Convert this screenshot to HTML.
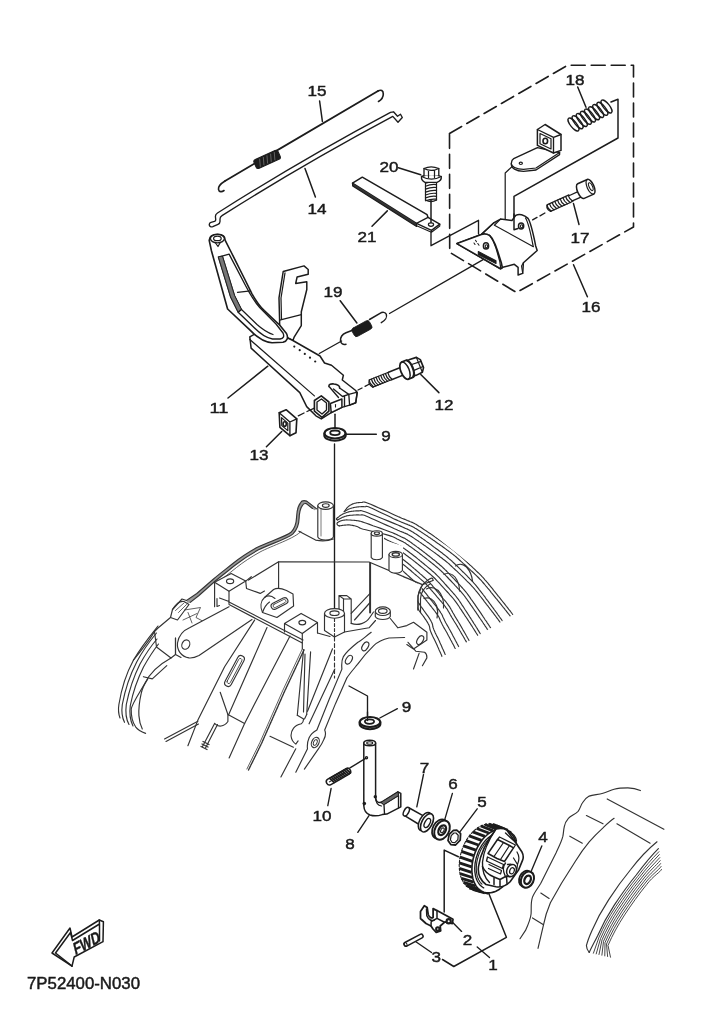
<!DOCTYPE html>
<html><head><meta charset="utf-8"><title>7P52400-N030</title>
<style>
html,body{margin:0;padding:0;background:#fff;}
body{width:719px;height:1024px;overflow:hidden;font-family:"Liberation Sans",sans-serif;}
svg{display:block;filter:blur(0.55px);}
.d{fill:none;stroke:#1c1c1c;stroke-width:1.5;stroke-linecap:round;stroke-linejoin:round;}
.e{fill:none;stroke:#333;stroke-width:1.15;stroke-linecap:round;stroke-linejoin:round;}
.w{fill:#fff;}
.k{fill:#1c1c1c;}
.t{font-family:"Liberation Sans",sans-serif;font-size:15.3px;fill:#1a1a1a;stroke:#1a1a1a;stroke-width:0.45;text-anchor:middle;}
.ds{stroke-dasharray:14 6;}
</style></head><body>
<svg width="719" height="1024" viewBox="0 0 719 1024">
<rect width="719" height="1024" fill="#fff"/>
<!-- ===== TOP PARTS ===== -->
<g class="d">
<!-- dashed box 16 -->
<path class="ds" d="M449.5,133.5 L567.5,65.3 L633.5,65.3 L633.5,227 L516.5,292.5 L449.7,252.3 Z" stroke-width="1.62" stroke-dasharray="16 6"/>

<!-- part 15 rod + spring -->
<path d="M225,181 L378,91" stroke-width="1.76"/>
<path d="M225,181 C221,183.5 218,186 218.5,189.3 C219,192.3 222,192 224,190.5" stroke-width="1.62"/>
<path d="M378,91 C381,89.3 383.3,90.5 383.3,94 C383.3,97.5 381,100 378.5,101.5" stroke-width="1.62"/>
<g transform="rotate(-24.2 267.1 159.4)">
<rect x="253.9" y="154.6" width="26.4" height="9.6" rx="2.4" class="k" stroke-width="1.08"/>
<path d="M258,163 L260.5,156 M262,163 L264.5,156 M266,163 L268.5,156 M270,163 L272.5,156 M274,163 L276.5,156" stroke="#777" stroke-width="0.68"/>
</g>

<!-- part 14 rod -->
<path d="M217.5,213 Q300,160.5 390.5,112.3 L393.5,111.8 L397.5,116.3 L400.5,114.2 L402.3,117.5 L398,122.3 L392.8,116.4 Q303,164.3 222,215.6 C220.500,216.500 220,217.500 220,219 L220,221.500 C220,223 219.300,223.800 218,224.300 L212.800,226.600 C211,227.200 209.600,226.500 209.300,225 C209.100,223.600 209.800,222.700 211,222.300 L214.500,221.300 C215.400,221 215.800,220.300 215.700,219.300 L215.400,216.500 C215.400,215 216.200,213.800 217.5,213 Z" stroke-width="1.35"/>
<!-- part 21 plate -->
<path d="M352.5,183.1 L362.3,177.2 L427.1,214.7 L428,217.4 L439.8,224.2 L431.5,230.4 L416.5,223.4 Z" class="w"/>
<path d="M352.5,183.1 L352.7,186 L416.6,226.4 L416.5,223.4" fill="#333" stroke-width="1.22"/>
<path d="M416.5,223.4 L428,217.4" stroke-width="1.22"/>
<ellipse cx="431" cy="224.6" rx="2.6" ry="1.7" stroke-width="1.22"/>
<path d="M416.6,225.7 L431.5,232.2 L439.8,226 L439.8,224.2 M431.5,230.4 L431.5,232.2" stroke-width="1.08"/>

<!-- bolt 20 -->
<path d="M431,200 L431,222.6" stroke-width="1.49"/>
<path d="M425.5,182.5 L425.5,200.0 M436.5,200.0 L436.5,182.5" stroke-width="1.22"/>
<path d="M425.5,183.3 Q431.0,181.0 436.5,181.7" stroke-width="1.22"/>
<path d="M425.5,186.2 Q431.0,183.9 436.5,184.6" stroke-width="1.22"/>
<path d="M425.5,189.1 Q431.0,186.8 436.5,187.5" stroke-width="1.22"/>
<path d="M425.5,192.1 Q431.0,189.8 436.5,190.4" stroke-width="1.22"/>
<path d="M425.5,195.0 Q431.0,192.7 436.5,193.4" stroke-width="1.22"/>
<path d="M425.5,197.9 Q431.0,195.6 436.5,196.3" stroke-width="1.22"/>
<path d="M425.5,200.8 Q431.0,198.5 436.5,199.2" stroke-width="1.22"/>
<path d="M425.5,200 Q431,203 436.5,200" stroke-width="1.35"/>
<path d="M421.5,176.5 Q421,180.5 425,182.3 L437,182.3 Q441.8,180.5 441.3,176.5 Q431.5,172.5 421.5,176.5 Z" class="w" stroke-width="1.35"/>
<path d="M421.5,176.5 Q431.5,181.8 441.3,176.5" stroke-width="1.22"/>
<path d="M424,175.5 L424,168.5 Q431,165.2 438.8,168.5 L438.8,175.5" class="w" stroke-width="1.35"/>
<path d="M424,168.5 Q431,172.3 438.8,168.5 M428.5,170.3 L428.5,177.5 M434.5,170.3 L434.5,177.5" stroke-width="1.22"/>

<!-- bracket lines left of bracket 16 -->
<path d="M431,231.8 L431,245.7 L478.5,220.3 L478.5,234" stroke-width="1.35"/>
<!-- long line from spring 19 to bracket -->
<path d="M389.5,313.5 L484.4,258.9" stroke-width="1.35"/>

<!-- spring 18 -->
<ellipse cx="573.5" cy="124.5" rx="3.0" ry="7.9" transform="rotate(-38.6 573.5 124.5)" fill="none" stroke-width="1.35"/>
<ellipse cx="577.6" cy="122.2" rx="3.0" ry="7.9" transform="rotate(-38.6 577.6 122.2)" fill="none" stroke-width="1.35"/>
<ellipse cx="581.8" cy="120.0" rx="3.0" ry="7.9" transform="rotate(-38.6 581.8 120.0)" fill="none" stroke-width="1.35"/>
<ellipse cx="585.9" cy="117.8" rx="3.0" ry="7.9" transform="rotate(-38.6 585.9 117.8)" fill="none" stroke-width="1.35"/>
<ellipse cx="590.0" cy="115.5" rx="3.0" ry="7.9" transform="rotate(-38.6 590.0 115.5)" fill="none" stroke-width="1.35"/>
<ellipse cx="594.1" cy="113.2" rx="3.0" ry="7.9" transform="rotate(-38.6 594.1 113.2)" fill="none" stroke-width="1.35"/>
<ellipse cx="598.2" cy="111.0" rx="3.0" ry="7.9" transform="rotate(-38.6 598.2 111.0)" fill="none" stroke-width="1.35"/>
<ellipse cx="602.4" cy="108.8" rx="3.0" ry="7.9" transform="rotate(-38.6 602.4 108.8)" fill="none" stroke-width="1.35"/>
<ellipse cx="606.5" cy="106.5" rx="3.0" ry="7.9" transform="rotate(-38.6 606.5 106.5)" fill="none" stroke-width="1.35"/>
<path d="M611,102 L618,99.3 L618,138 L514,196.3 L514,230" stroke-width="1.49"/>
<path d="M513.5,165.2 L505.2,173 L505.2,247.5 L502,249.5" stroke-width="1.22"/>

<!-- tab + nut block -->
<path d="M513.7,158.7 L537.4,147.6 L559.6,152.5 L559.6,154.6 L536,170 L523.5,171.3 C516,171.3 511,168 511.3,163.5 C511.5,160.5 512.3,159.5 513.7,158.7 Z" class="w" stroke-width="1.35"/>
<path d="M511.3,163.5 C511.3,166.5 516,169.3 523.5,169.3 L536,168 L559.6,152.5" stroke-width="1.22"/>
<ellipse cx="520.8" cy="163.3" rx="1.6" ry="1.2" stroke-width="1.22"/>
<path d="M537.4,129.5 L545.1,124.5 L561,134.5 L561,150.4 L553.5,153 L537.4,145.4 Z" class="w" stroke-width="1.49"/>
<path d="M537.4,129.5 L553.5,137.3 L561,134.5 M553.5,137.3 L553.5,153" stroke-width="1.35"/>
<path d="M540,133.5 L551,138.8 L551,149 L540,143.8 Z" stroke-width="1.22"/>
<ellipse cx="545.3" cy="141" rx="2.3" ry="2.7" stroke-width="1.62"/>

<!-- bolt 17 -->
<path d="M550.5,211.4 L572.0,201.7 M569.0,194.9 L547.5,204.6" stroke-width="1.22"/>
<path d="M551.3,211.0 Q547.6,208.6 546.7,205.0" stroke-width="1.22"/>
<path d="M553.9,209.8 Q550.3,207.4 549.4,203.7" stroke-width="1.22"/>
<path d="M556.6,208.6 Q553.0,206.2 552.1,202.5" stroke-width="1.22"/>
<path d="M559.3,207.4 Q555.7,205.0 554.8,201.3" stroke-width="1.22"/>
<path d="M562.0,206.2 Q558.4,203.8 557.5,200.1" stroke-width="1.22"/>
<path d="M564.7,205.0 Q561.1,202.6 560.2,198.9" stroke-width="1.22"/>
<path d="M567.4,203.8 Q563.8,201.3 562.9,197.7" stroke-width="1.22"/>
<path d="M570.1,202.6 Q566.4,200.1 565.6,196.5" stroke-width="1.22"/>
<path d="M572.8,201.3 Q569.1,198.9 568.2,195.3" stroke-width="1.22"/>
<path d="M547.6,204.8 Q545.5,208.5 550.3,211.3" stroke-width="1.22"/>
<path d="M569.5,195.5 L579,191.2 M571.8,201.2 L581.5,196.8" stroke-width="1.35"/>
<g transform="rotate(-24 585.5 189)">
<path d="M580.5,181 L591,181 A3.4,8 0 0 1 591,197 L580.5,197 A3.4,8 0 0 1 580.5,181 Z" class="w" stroke-width="1.49"/>
<path d="M591,181 A3.4,8 0 0 0 591,197" stroke-width="1.22"/>
<ellipse cx="591.3" cy="189" rx="1.7" ry="4.2" stroke-width="1.08"/>
</g>
<path d="M532.6,219.9 L537,217.4 M540,215.8 L544.9,213" stroke-width="1.35"/>

<!-- bracket 16 -->
<path d="M493.6,223 L500.5,219.1 L512,220.5 L515.8,215.3 C519,213.5 524,214.5 528,218.4 C531,222.5 532.6,230.6 535.7,245.9 L537.2,250.5 L523.4,262.7 L522.7,273.4 L518.1,275 L518.1,267.3 L514.3,264.3 L502.8,267.3 L500.5,268.8 L456.9,243.6 L481.4,234.4 Z" class="w" stroke-width="1.49"/>
<path d="M494.4,225.2 L533.4,246.7 M493.6,223 L481.4,234.4 M494.4,225.2 L500.5,219.1" stroke-width="1.22"/>
<path d="M522.7,273.4 L521.5,266 L523.4,262.7" stroke-width="1.08"/>
<path d="M525.5,218 C528.5,222.5 530.3,231 533.2,246.4" stroke-width="1.22"/>
<ellipse cx="521.1" cy="226" rx="2.6" ry="3" stroke-width="1.49"/>
<ellipse cx="521.6" cy="226.3" rx="1.2" ry="1.5" stroke-width="1.08"/>
<path d="M514,214 L514,229.8 L518,228.5" stroke-width="1.49"/>
<!-- front ear -->
<path d="M456.9,243.6 L481.4,234.4 C485,233 489.5,234.3 492,238.2 C494.5,242.5 496,246 497.4,250.5 L501.3,262.7 L502.3,267.5 L500.5,268.8 Z" class="w" stroke-width="1.62"/>
<path d="M489.5,235.2 C492.5,239 494.5,243.5 496,248 L499.8,261.5 L500.7,268.2" stroke-width="1.22"/>
<ellipse cx="486" cy="245.9" rx="2.6" ry="3.1" stroke-width="1.49"/>
<ellipse cx="486.4" cy="246.2" rx="1.2" ry="1.5" stroke-width="1.08"/>
<path d="M478.3,251.6 L496,260.8 L496,263.5 L478.3,254.5 Z" class="k" stroke-width="1.08"/>
<path d="M475.5,240.3 L476.5,241.8 M477.8,243.5 L479,245.2 M474,243 L475,244.5" stroke-width="1.08"/>
</g>
<!-- ===== LEVER 11 etc ===== -->
<g class="d">
<!-- upright plate -->
<path d="M283.2,271.5 L304,265.9 L308.2,269.5 L308.2,274.2 L297.1,277 L295.7,283.4 L306.8,281.8 L306.8,289.5 L301.3,311.8 L301.3,325.7 L294.3,336.8 L292.9,340.5 L279.6,334 L279.6,320.1 L279,297.9 Z" class="w" stroke-width="1.49"/>
<path d="M285,272.8 L281,298 L281.5,319.5 M279.6,320.1 L301.3,314.6" stroke-width="1.22"/>
<!-- flat plate -->
<path d="M249.8,336.8 L251.1,348.1 L299.8,392.6 L306.7,406.6 L315.9,415.8 L321.3,418.9 L331.2,412.7 L341.9,407.4 L349.6,405.1 L355.7,402.8 L357.2,392.8 L355.7,390.5 L342.3,380 L343.4,375.2 L331.5,365.3 L324.5,363 L320,356 L292.9,340.5 L279.6,334 L262,330 Z" class="w" stroke-width="1.49"/>
<path d="M249.8,339.5 L314.4,395.9" stroke-width="1.22"/>
<!-- holes -->
<g class="k" stroke="none"><circle cx="294.3" cy="346.6" r="1.1"/><circle cx="299.7" cy="350.2" r="1.1"/><circle cx="304.8" cy="353.9" r="1.1"/><circle cx="310" cy="357.7" r="1.1"/><circle cx="315.2" cy="361.5" r="1.1"/></g>
<!-- arm -->
<path d="M209.2,240.3 C209.5,236 213,234.3 217.6,234.3 C222.5,234.3 225.2,236.5 225.2,240.3 L230.6,251 L244.4,278.5 L252,293.8 C256,301 259,305.5 264.3,310.7 L279.6,325 L286.5,333.5 C288.5,337.5 287.5,341 283,342.3 L272,342.8 C264,342 257,337.5 249.8,329.9 L227.6,309 L211.5,251 Z" class="w" stroke-width="1.62"/>
<ellipse cx="217.4" cy="238.6" rx="7" ry="4.2" stroke-width="1.35"/>
<ellipse cx="217.4" cy="238.4" rx="3.8" ry="2.3" stroke-width="1.22"/>
<path d="M215.5,243 L218,246.5 L220,243" stroke-width="1.22"/>
<!-- slot -->
<path d="M218.4,257.1 L229.1,254.1 L245.9,286.2 C250,294 254,301 259.7,307.5 L276,324 L283,333 C284.5,336.5 283.5,338.5 280,339 L272.5,339 C266,338 260,333.5 254,327.5 L238.2,312.2 L230.6,296.9 Z" stroke-width="1.35"/>
<path d="M222.5,256.5 L234.5,295.5 L241.5,309.5 L257,324.5 C262,329 267,332.5 273,334.5" stroke-width="1.22"/>
<path d="M218.4,257.1 L230.6,296.9 L238.2,312.2 L241.5,309.5 L234.5,295.5 L222.5,256.5 Z" fill="#777" stroke-width="0.81"/>
<path d="M237.5,292.3 L250.5,290.8 M238.2,312.2 L241.5,309.5" stroke-width="1.22"/>
<!-- clamp end -->
<path d="M348.8,394.4 L357.2,392.1 L355.7,402.8 L349.6,405.1 Z" stroke-width="1.35"/>
<path d="M328.9,386.5 C328.5,384.5 331,383.5 334,384 C337.5,384.5 340,386 339.6,388" stroke-width="1.62"/>
<path d="M329.5,387 L338.5,397.5 M333.5,389 L342.5,396.5 L348.8,394.4 M339.6,388 L348.8,394.4 M344.5,397 L344.5,406.5" stroke-width="1.35"/>
<path d="M330.4,403.5 L341.9,399 L341.9,407.4 L331.2,412.7 Z" class="w" stroke-width="1.49"/>
<path d="M314.4,400.5 L321.3,395.9 L328.9,402 L328.9,411.2 L322,417.3 L314.4,411.2 Z" class="w" stroke-width="1.62"/>
<path d="M317,402 L321.5,399 L326.5,403 L326.5,410 L322,414 L317,410 Z" stroke-width="1.35"/>
<path d="M335.5,404.5 L335.5,407" stroke-width="1.08"/>
<!-- dashed lines -->
<path d="M298.3,415.8 L304,413 M307,411.5 L314.4,408.1" stroke-width="1.35"/>
<path d="M358,390 L362,388 M365,386.3 L369.5,384" stroke-width="1.35"/>
<path d="M335,414.3 L335,430.5" stroke-width="1.49"/>
<path d="M319.3,353.5 L341.6,341" stroke-width="1.35"/>

<g transform="translate(0,1.6)"><!-- nut 13 -->
<path d="M279.2,411.2 L286.1,408.1 L296.8,417.3 L296,431.1 L289.9,434.1 L279.9,425.7 Z" class="w" stroke-width="1.62"/>
<path d="M279.2,411.2 L289.9,420.4 L296.8,417.3 M289.9,420.4 L289.9,434.1" stroke-width="1.35"/>
<path d="M281.5,416 L287.8,421.5 L287.8,429 L281.8,424 Z" stroke-width="1.22"/>
<ellipse cx="284.7" cy="422.5" rx="1.6" ry="2.3" stroke-width="1.62"/>

</g>
<!-- washer 9 -->
<path d="M324.3,433.2 L324.3,435.4 A10.7,5.4 0 0 0 345.7,435.4 L345.7,433.2" class="w" stroke-width="2.03"/>
<ellipse cx="335" cy="433.2" rx="10.4" ry="5.2" class="w" stroke-width="2.03"/>
<ellipse cx="335" cy="432.8" rx="4.8" ry="2.3" stroke-width="1.76"/>

<!-- spring 19 -->
<path d="M352.5,330.3 L346,332.8 C342.5,334.3 340.3,337.5 340.5,340.8 C340.8,343.8 343.2,345 346,344.2" stroke-width="1.49"/>
<path d="M369.5,319.5 L380,313.3 C382.5,311.8 385.3,312 386.3,314.3 C387.3,317 385.3,320.5 381.3,322.6" stroke-width="1.49"/>
<rect x="352" y="323.9" width="19.8" height="9.4" rx="2.5" class="k" stroke-width="0.81" transform="rotate(-28.9 361.9 328.6)"/>


<!-- bolt 12 -->
<path d="M372.7,387.1 L391.5,379.7 M388.5,372.3 L369.7,379.7" stroke-width="1.22"/>
<path d="M373.4,386.8 Q369.8,383.9 369.0,380.0" stroke-width="1.22"/>
<path d="M375.8,385.9 Q372.2,383.0 371.3,379.0" stroke-width="1.22"/>
<path d="M378.1,385.0 Q374.5,382.1 373.7,378.1" stroke-width="1.22"/>
<path d="M380.5,384.1 Q376.9,381.2 376.0,377.2" stroke-width="1.22"/>
<path d="M382.8,383.1 Q379.2,380.2 378.4,376.3" stroke-width="1.22"/>
<path d="M385.2,382.2 Q381.6,379.3 380.7,375.3" stroke-width="1.22"/>
<path d="M387.5,381.3 Q383.9,378.4 383.1,374.4" stroke-width="1.22"/>
<path d="M389.9,380.4 Q386.3,377.5 385.4,373.5" stroke-width="1.22"/>
<path d="M392.2,379.4 Q388.6,376.5 387.8,372.6" stroke-width="1.22"/>
<path d="M369.7,379.8 Q367.3,383.8 372.8,387.2" stroke-width="1.22"/>
<path d="M388.5,372.3 L403.5,366.3 M391.5,379.8 L405,374.4" stroke-width="1.49"/>
<g transform="rotate(-22 405 370.6)">
<path d="M405,361.4 L409.8,361.4 A4.2,9.2 0 0 1 409.8,379.8 L405,379.8 A4.2,9.2 0 0 1 405,361.4 Z" class="w" stroke-width="1.76"/>
<path d="M405,361.4 A4.2,9.2 0 0 1 405,379.8" stroke-width="1.49"/>
<path d="M411.5,362.5 L413.5,362 L420.5,362.6 L423.3,366.2 L423.3,374.8 L420.5,378.6 L413.5,379.2 L411.8,378.5" class="w" stroke-width="1.62"/>
<path d="M420.5,362.6 L420.5,378.6 M413.5,367.5 L423.3,368 M413.5,373.8 L423.3,373.5" stroke-width="1.22"/>
<path d="M410.5,362 A4.2,9.2 0 0 1 410.5,379.2" stroke-width="2.16"/>
</g>
<!-- long vertical line -->
<path d="M334.5,444 L334.5,608" stroke-width="1.35"/>
</g>
<!-- ===== ENGINE BLOCK (light lines) ===== -->
<g class="e">
<!-- outer rim left: multiple lines -->
<path d="M314.6,508.7L306.5,502.4C304.0,501.7 302.4,502.3 301.6,504.0C298.8,507.5 298.0,512.5 297.8,518.2C297.6,524.5 295.8,529.1 292.0,533.0C287.0,537.5 268.8,543.1 257.7,548.6C248.8,553.6 240.8,559.0 234.2,564.1C226.8,570.1 220.2,575.1 214.2,580.1L197.9,594.5L188.2,601.5" stroke="#9a9a9a" stroke-width="2.73"/>
<path d="M316.7,508.9 L306.7,501.1 C303.5,500.2 301.5,500.8 300.5,502.8 C297.5,506.5 296.7,512 296.5,518 C296.3,524 294.5,528.5 291,532.3 C286,536.5 268,542 256.9,547.5 C248,552.5 240,557.8 233.5,563 C226,569 219.5,574 213.5,579 L196.8,593.5 L186.5,600.5 L182,599 L172.5,609.5"/>
<path d="M312.5,508.5 L306.3,503.6 C304.5,503.2 303.3,503.8 302.6,505.2 C300,508.5 299.3,513 299.1,518.5 C298.9,525 297,529.8 293,533.8 C288,538.5 269.5,544.3 258.5,549.8 C249.5,554.8 241.5,560.1 235,565.3 C227.5,571.3 221,576.3 215,581.3 L199,595.5 L190,602.5"/>
<path d="M301.1,531.2 C296,538 271,546 260,552 C251,557 243,562.3 236.5,567.5 C229,573.5 222.5,578.5 217,583.5" stroke-width="0.78"/>
<path d="M298.9,531.2 L315.6,540.1 C322,541.5 328,541 333.4,539"/>
<!-- bump on rim -->
<path d="M172.5,609.5 C176,604 180,600.5 184,601.5 L189,604.5 L177.5,620 L170.5,617.5 Z"/>
<path d="M175.5,610.5 L184,603 M178.5,612.5 L186.5,604.5" stroke-width="0.78"/>
<path d="M184.5,610 L200.5,607.5 L196,617.5 L203.5,621.5 M188,612.5 L192,623 M183,620 L197,613.5" stroke-width="0.78"/>
<!-- left lug box -->
<path d="M170.5,617.5 L158,628 L154.5,631.5 L156.5,647 L171,658 L175.5,654.5 L175.5,638"/>
<path d="M154.500,631.5 C150,640 143,648 133.400,660.200"/>
<!-- rim lower-left 4 lines -->
<path d="M158,626 C150,636 141,647 133.400,660.200 C127,672 121.500,688 118.900,704.500 C118,710 118.500,714 120,718"/>
<path d="M156.500,633 C149,642 142,652 136.700,662 C130.500,674 125,690 122.300,704.500 C121.300,712 122.300,718 124.500,722.300"/>
<path d="M157,639 C151,646 145,655 140,664 C134,676 129,691 126.300,704.500 C125.300,712 126.500,720 129,724.500"/>
<path d="M171,658 C160,664 150,672 144.500,684 C138,695 132,704 131.200,709 C131,717 133,723 135.600,726.800 C138,730 142,732 145.600,733.400"/>
<path d="M158.500,644 C153,651 148,659 143.500,667 C138,678 133,692 130.300,705.500 C129.300,713 130.500,721 133,726"/>
<path d="M147.800,678.900 C144.500,684 142,689 141.200,693.400 C139.500,701 138.500,708 138.900,715.600 C139.300,721 140.500,725.500 142.300,729"/>
<path d="M143.400,676.700 L152.300,678.900 L166.800,665.600"/>

<!-- top cylinder boss -->
<path d="M317.800,505.600 L317.800,537 C320,541 331,541 333.400,537 L333.400,505.600" class="w"/>
<ellipse cx="325.600" cy="505.600" rx="7.800" ry="3.800" class="w"/>
<ellipse cx="325.800" cy="505.500" rx="3.400" ry="1.800"/>
<path d="M321,509 L321,536" stroke-width="0.65"/>

<!-- inner box -->
<path d="M248.500,580.100 L278.600,561.800 L369,562 L422.400,584.600 L418,595.700 L418,610"/>
<path d="M278.600,561.800 L278.600,588.500"/>
<path d="M370.100,563 L370.100,612.500" stroke-width="1.95"/>
<path d="M422.400,584.600 L433,580.500"/>

<!-- left block -->
<path d="M214.600,582.300 L231.200,573.400 L245.700,581.100 L229,591.200 Z" class="w"/>
<ellipse cx="230.100" cy="581.300" rx="3.600" ry="2.400"/>
<path d="M214.600,582.300 L214.600,606.700 M229,591.200 L229,603.400 M245.700,581.100 L246.500,588.500 L260.200,593.400 L264.500,591 M217,598.500 L217,606.500 L219.500,605.500 M219.500,598 L229,601.500"/>
<path d="M245.700,581.100 L251.300,576.700"/>
<!-- slot boss -->
<path d="M262.500,612.500 C260,607 260.500,601 264.500,597.500 L273.600,589.500 C277,587.500 282,588.500 286.500,590.500 L293,594 L293.600,606 L276.900,617.500 Z" class="w"/>
<path d="M264.500,597.500 C268,595 272,596 275,598.500 M262.500,612.500 C264,608 266,604.500 269.500,602"/>
<rect x="270.500" y="600.300" width="18" height="6.400" rx="3.200" transform="rotate(-27 279.500 603.500)"/>
<rect x="272.500" y="601.800" width="14" height="3.400" rx="1.700" transform="rotate(-27 279.500 603.500)" stroke-width="0.78"/>
<!-- ledge thick line -->
<path d="M229,602 L303,640 M229,604.500 L302.300,643" stroke-width="1.17"/>
<!-- right block -->
<path d="M284.500,623.500 L301.100,613.400 L317.500,622.500 L302.300,633.500 Z" class="w"/>
<ellipse cx="302.300" cy="622.600" rx="3.400" ry="2.300"/>
<path d="M284.500,623.500 L284.500,632 M302.300,633.500 L302.300,649 M317.500,622.500 L317.500,633"/>

<!-- link arm -->
<path d="M229,606.700 L190,627.500 C183,630.500 178.500,636 177.500,643 C176.800,650 181,656.500 189,657.900 C193,658.300 196,657 199,655.500 L252,619.500" class="w"/>
<ellipse cx="185.800" cy="644.600" rx="3.800" ry="4.800" transform="rotate(25 185.800 644.600)"/>
<path d="M175.500,638 L175.500,654.500 L181,657.500"/>

<!-- crankcase body diagonals -->
<path d="M254.600,620.100 L224.600,666.700 L197.900,720.100 L187.900,745.700"/>
<path d="M267,627.5 L228.500,715"/>
<rect x="217.5" y="667.500" width="34" height="7" rx="3.500" transform="rotate(-62 234.5 671)"/>
<rect x="220.5" y="669.300" width="28" height="3.400" rx="1.700" transform="rotate(-62 234.5 671)" stroke-width="0.78"/>

<path d="M220.200,692.300 L227.900,714.500 L244.600,723.400"/>
<path d="M290,636 L260,693.400 L244.600,723.400 L229.100,757.900"/>
<path d="M164.500,739 L197.900,721.200 M166,741.500 L198.500,724"/>
<path d="M214.600,723.400 L202.400,746.800 M217.500,724.500 L205.500,748 M214.600,723.400 C218,727.500 224,727 227.900,721.500 L227.900,714.500"/>
<path d="M202,744 L208,747 M203,741.500 L209,744.500 M201,746.500 L207,749.500" stroke-width="1.30"/>
<path d="M302.300,649 L283,690 L260,742.300 L246.900,769" stroke-width="0.78"/>
<path d="M304,650 L284.500,691.500 L261.500,743.500 L248.500,770" stroke-width="1.43" stroke-dasharray="1 0.8"/>
<path d="M303.600,649.500 L297.300,715.200 M310.600,651.900 L306.700,714.400 M305,654 L303.500,712"/>
<path d="M270,736.300 L293.400,747.200"/>
<path d="M297.300,715.200 L303.600,719.100 C303.500,721.500 302.500,723 301.300,723.800 C298,724.500 295,726 293.400,728.400 C291.500,731 290.800,733.500 291.100,736.300 C291.500,740 293.500,742.500 295.800,744.100 L298.100,740.900 M295.800,748.800 L280.900,776.900 M306.700,714.400 L304.500,719"/>
<!-- fins (right) -->
<clipPath id="fc"><path d="M335,510 L350,496 L385,496 L530,612 L513.5,614.5 L440,658 L424,628 L417.500,620 L417.500,597 L423,586 L369,562 L350,540 L336,526 Z"/></clipPath>
<clipPath id="fc2"><path d="M384,528 L530,612 L513.5,614.5 L440,658 L424,628 L417.500,620 L417.500,597 L423,586 L403,577 L403,546 L384,540 Z"/></clipPath>
<g clip-path="url(#fc)"><path d="M344.2,511.7 L344.4,511.4 L344.8,510.9 L345.2,510.3 L345.6,509.7 L346.1,509.0 L346.5,508.4 L347.0,507.8 L347.5,507.3 L348.0,506.9 L348.5,506.4 L349.0,506.0 L349.5,505.7 L350.0,505.3 L350.6,505.0 L351.1,504.7 L351.7,504.4 L352.3,504.1 L352.8,503.9 L353.4,503.7 L354.0,503.5 L354.6,503.3 L355.3,503.2 L355.9,503.0 L356.5,502.9 L357.1,502.8 L357.7,502.7 L358.4,502.6 L359.0,502.6 L359.7,502.5 L360.3,502.5 L361.0,502.5 L361.7,502.5 L362.3,502.4 L362.6,502.3 L362.9,502.1 L363.3,502.0 L363.9,502.0 L364.7,502.1 L366.1,502.5 L368.0,503.2 L370.7,504.3 L374.3,505.9 L378.4,507.7 L382.8,509.6 L387.2,511.6 L391.3,513.5 L395.0,515.2 L397.9,516.5 L400.1,517.4 L401.8,518.2 L403.1,518.7 L404.1,519.1 L404.9,519.4 L405.7,519.7 L406.5,520.1 L407.4,520.5 L408.4,520.9 L409.4,521.3 L410.3,521.7 L411.2,522.0 L412.1,522.4 L413.0,522.8 L413.9,523.2 L414.9,523.8 L415.9,524.3 L417.0,525.0 L418.1,525.7 L419.2,526.4 L420.4,527.1 L421.5,527.8 L422.6,528.5 L423.6,529.2 L424.7,529.9 L425.7,530.6 L426.7,531.2 L427.7,531.9 L428.6,532.5 L429.6,533.2 L430.6,533.8 L431.5,534.5 L432.4,535.1 L433.3,535.7 L434.2,536.3 L435.0,536.9 L435.9,537.5 L436.8,538.2 L437.7,538.8 L438.7,539.5 L439.7,540.3 L440.8,541.0 L441.9,541.8 L443.0,542.6 L444.2,543.4 L445.3,544.3 L446.5,545.1 L447.7,546.0 L448.8,546.8 L450.0,547.7 L451.2,548.6 L452.4,549.5 L453.6,550.4 L454.8,551.4 L455.9,552.3 L457.1,553.2 L458.2,554.2 L459.3,555.2 L460.4,556.1 L461.5,557.1 L462.6,558.1 L463.7,559.1 L464.7,560.1 L465.8,561.1 L466.9,562.0 L467.9,563.0 L469.0,564.0 L470.0,565.0 L471.1,565.9 L472.1,566.9 L473.1,567.9 L474.2,568.9 L475.2,569.8 L476.2,570.8 L477.2,571.8 L478.2,572.7 L479.2,573.7 L480.2,574.7 L481.2,575.7 L482.1,576.7 L483.1,577.7 L484.0,578.7 L484.9,579.8 L485.9,580.8 L486.8,581.9 L487.7,582.9 L488.5,584.0 L489.4,585.0 L490.3,586.1 L491.1,587.1 L492.0,588.2 L492.8,589.2 L493.6,590.3 L494.5,591.3 L495.3,592.3 L496.1,593.3 L496.9,594.3 L497.7,595.3 L498.4,596.3 L499.2,597.2 L500.0,598.2 L500.7,599.1 L501.5,600.1 L502.2,601.0 L502.9,601.9 L503.7,602.8 L504.4,603.7 L505.1,604.6 L505.8,605.5 L506.4,606.3 L507.1,607.1 L507.7,607.9 L508.4,608.8 L509.0,609.6 L509.7,610.4 L510.3,611.2 L510.9,612.0 L511.4,612.7 L511.9,613.3 L512.3,613.7 L512.5,614.1 L512.7,614.3 L512.7,614.3 L512.8,614.4 L512.7,614.4 L512.7,614.3 L512.7,614.3 L512.7,614.3"/>
<path d="M344.2,511.7 L344.6,511.5 L345.0,511.2 L345.6,510.8 L346.2,510.5 L346.9,510.1 L347.6,509.7 L348.3,509.3 L349.0,509.0 L349.7,508.7 L350.4,508.5 L351.2,508.2 L352.0,508.0 L352.8,507.8 L353.5,507.6 L354.3,507.5 L355.0,507.3 L355.7,507.2 L356.3,507.1 L356.9,507.0 L357.6,506.9 L358.2,506.8 L358.8,506.8 L359.4,506.7 L360.0,506.7 L360.6,506.7 L361.2,506.6 L361.9,506.6 L362.5,506.6 L363.1,506.6 L363.8,506.6 L364.4,506.7 L365.0,506.7 L365.5,506.7 L365.8,506.6 L365.9,506.4 L366.2,506.3 L366.6,506.3 L367.3,506.5 L368.4,506.8 L370.0,507.5 L372.4,508.6 L375.5,510.0 L379.0,511.7 L382.8,513.5 L386.7,515.3 L390.4,517.1 L393.6,518.7 L396.3,519.9 L398.3,520.8 L400.0,521.5 L401.3,522.1 L402.4,522.5 L403.4,522.9 L404.3,523.2 L405.2,523.6 L406.2,524.0 L407.2,524.4 L408.1,524.8 L408.9,525.1 L409.7,525.4 L410.5,525.8 L411.3,526.1 L412.2,526.5 L413.1,527.0 L414.1,527.6 L415.1,528.2 L416.2,528.8 L417.3,529.5 L418.4,530.2 L419.5,530.9 L420.6,531.6 L421.6,532.3 L422.6,532.9 L423.6,533.6 L424.6,534.3 L425.6,534.9 L426.6,535.6 L427.6,536.2 L428.5,536.9 L429.4,537.5 L430.4,538.1 L431.2,538.7 L432.1,539.3 L432.9,539.9 L433.8,540.5 L434.7,541.1 L435.6,541.8 L436.5,542.5 L437.6,543.2 L438.7,543.9 L439.8,544.7 L440.9,545.5 L442.1,546.3 L443.3,547.2 L444.4,548.0 L445.6,548.9 L446.7,549.7 L447.9,550.6 L449.1,551.4 L450.2,552.3 L451.4,553.2 L452.6,554.1 L453.7,555.0 L454.8,555.9 L455.9,556.8 L457.0,557.8 L458.1,558.7 L459.2,559.7 L460.3,560.7 L461.3,561.6 L462.4,562.6 L463.4,563.6 L464.5,564.5 L465.6,565.5 L466.6,566.5 L467.7,567.5 L468.7,568.4 L469.8,569.4 L470.8,570.4 L471.8,571.3 L472.9,572.3 L473.9,573.2 L474.9,574.2 L475.9,575.1 L476.9,576.1 L477.8,577.0 L478.8,578.0 L479.7,579.0 L480.7,579.9 L481.6,580.9 L482.5,582.0 L483.4,583.0 L484.3,584.0 L485.1,585.0 L486.0,586.1 L486.9,587.1 L487.7,588.1 L488.6,589.1 L489.5,590.2 L490.3,591.2 L491.1,592.3 L492.0,593.3 L492.8,594.3 L493.6,595.3 L494.4,596.3 L495.2,597.3 L496.0,598.3 L496.8,599.2 L497.5,600.2 L498.3,601.1 L499.0,602.0 L499.8,602.9 L500.5,603.8 L501.2,604.7 L501.9,605.6 L502.6,606.5 L503.3,607.4 L504.0,608.2 L504.7,609.0 L505.3,609.8 L506.0,610.6 L506.6,611.5 L507.3,612.3 L507.9,613.1 L508.5,613.9 L509.1,614.5 L509.5,615.1 L509.9,615.6 L510.1,615.9 L510.3,616.1 L510.4,616.2 L510.4,616.2 L510.4,616.2 L510.4,616.2 L510.3,616.1 L510.3,616.2"/>
<path d="M337.5,517.8 L337.8,517.6 L338.2,517.2 L338.7,516.9 L339.2,516.4 L339.7,516.0 L340.3,515.6 L340.9,515.2 L341.5,514.8 L342.1,514.5 L342.7,514.1 L343.4,513.8 L344.0,513.5 L344.7,513.3 L345.4,513.0 L346.0,512.7 L346.7,512.5 L347.4,512.3 L348.0,512.1 L348.6,511.9 L349.3,511.8 L349.9,511.6 L350.6,511.5 L351.3,511.4 L352.0,511.3 L352.7,511.2 L353.5,511.1 L354.3,511.0 L355.1,511.0 L355.9,510.9 L356.8,510.9 L357.6,510.9 L358.4,510.9 L359.1,510.9 L359.5,510.8 L359.9,510.7 L360.3,510.6 L360.8,510.6 L361.7,510.8 L363.1,511.2 L365.0,511.8 L367.7,512.8 L371.2,514.2 L375.2,515.8 L379.5,517.5 L383.8,519.2 L387.9,520.9 L391.5,522.4 L394.5,523.6 L396.7,524.5 L398.5,525.3 L399.9,525.9 L401.1,526.4 L402.0,526.8 L402.9,527.2 L403.8,527.6 L404.7,528.1 L405.7,528.5 L406.5,528.8 L407.3,529.1 L408.0,529.4 L408.6,529.7 L409.3,530.1 L410.1,530.4 L410.9,530.9 L411.8,531.5 L412.8,532.1 L413.8,532.7 L414.9,533.4 L415.9,534.1 L417.0,534.8 L418.0,535.5 L419.0,536.2 L420.0,536.9 L421.0,537.5 L421.9,538.2 L422.9,538.9 L423.9,539.6 L424.8,540.2 L425.7,540.9 L426.7,541.6 L427.5,542.2 L428.4,542.8 L429.2,543.4 L430.0,544.0 L430.9,544.6 L431.7,545.3 L432.6,545.9 L433.5,546.7 L434.5,547.4 L435.6,548.2 L436.7,549.0 L437.8,549.8 L439.0,550.7 L440.1,551.6 L441.3,552.4 L442.4,553.3 L443.5,554.2 L444.6,555.0 L445.7,555.9 L446.8,556.8 L447.9,557.7 L448.9,558.6 L450.0,559.5 L451.1,560.4 L452.1,561.3 L453.1,562.3 L454.1,563.2 L455.2,564.2 L456.2,565.2 L457.2,566.2 L458.2,567.1 L459.2,568.1 L460.2,569.1 L461.2,570.1 L462.2,571.2 L463.3,572.2 L464.3,573.2 L465.3,574.2 L466.3,575.2 L467.3,576.2 L468.2,577.2 L469.2,578.1 L470.1,579.1 L471.1,580.0 L472.0,581.0 L472.9,581.9 L473.7,582.9 L474.6,583.9 L475.5,584.8 L476.3,585.8 L477.1,586.8 L477.9,587.8 L478.7,588.8 L479.4,589.8 L480.2,590.8 L481.0,591.8 L481.8,592.9 L482.6,593.9 L483.4,595.0 L484.3,596.1 L485.1,597.2 L485.8,598.3 L486.6,599.3 L487.4,600.4 L488.2,601.4 L488.9,602.4 L489.6,603.4 L490.4,604.4 L491.1,605.3 L491.8,606.3 L492.5,607.2 L493.2,608.2 L493.9,609.1 L494.5,610.0 L495.2,610.9 L495.9,611.8 L496.5,612.7 L497.2,613.6 L497.8,614.5 L498.4,615.3 L499.0,616.1 L499.6,617.0 L500.2,617.8 L500.8,618.7 L501.4,619.4 L501.9,620.2 L502.3,620.8 L502.7,621.2 L502.9,621.6 L503.1,621.8 L503.1,621.9 L503.2,621.9 L503.1,621.9 L503.1,621.8 L503.1,621.8 L503.1,621.8"/>
<path d="M337.5,520.0 L337.8,519.8 L338.3,519.6 L338.8,519.2 L339.5,518.9 L340.1,518.6 L340.8,518.2 L341.4,517.9 L342.0,517.6 L342.6,517.3 L343.1,517.1 L343.7,516.9 L344.2,516.7 L344.8,516.4 L345.4,516.2 L346.0,516.1 L346.7,515.9 L347.4,515.8 L348.1,515.6 L348.9,515.5 L349.7,515.4 L350.5,515.3 L351.3,515.2 L352.2,515.2 L353.0,515.1 L353.8,515.0 L354.7,515.0 L355.6,515.0 L356.5,514.9 L357.4,514.9 L358.3,514.9 L359.2,515.0 L360.0,515.0 L360.7,515.0 L361.1,514.9 L361.4,514.8 L361.8,514.8 L362.3,514.8 L363.1,515.0 L364.3,515.3 L366.0,516.0 L368.4,517.0 L371.5,518.4 L375.1,520.0 L378.9,521.7 L382.8,523.5 L386.4,525.1 L389.7,526.6 L392.4,527.8 L394.5,528.8 L396.3,529.5 L397.8,530.2 L399.1,530.7 L400.2,531.2 L401.2,531.6 L402.2,532.0 L403.2,532.4 L404.1,532.8 L404.9,533.1 L405.6,533.4 L406.1,533.6 L406.7,533.9 L407.3,534.1 L407.9,534.5 L408.7,534.9 L409.6,535.4 L410.5,536.0 L411.5,536.6 L412.5,537.2 L413.5,537.9 L414.5,538.6 L415.5,539.3 L416.5,539.9 L417.5,540.6 L418.5,541.2 L419.4,541.9 L420.4,542.6 L421.4,543.2 L422.3,543.9 L423.3,544.5 L424.2,545.2 L425.1,545.8 L425.9,546.4 L426.7,547.0 L427.5,547.6 L428.4,548.2 L429.2,548.8 L430.1,549.4 L431.0,550.1 L432.1,550.9 L433.1,551.6 L434.2,552.4 L435.4,553.3 L436.5,554.1 L437.7,555.0 L438.8,555.8 L439.9,556.7 L441.0,557.5 L442.1,558.3 L443.2,559.2 L444.3,560.0 L445.3,560.8 L446.4,561.7 L447.5,562.6 L448.5,563.4 L449.5,564.3 L450.5,565.3 L451.5,566.2 L452.5,567.1 L453.5,568.1 L454.5,569.0 L455.5,570.0 L456.6,570.9 L457.6,571.9 L458.6,572.9 L459.7,573.9 L460.7,574.9 L461.8,575.9 L462.8,576.9 L463.8,577.9 L464.8,578.9 L465.8,579.8 L466.7,580.8 L467.6,581.7 L468.6,582.6 L469.5,583.5 L470.4,584.4 L471.2,585.3 L472.1,586.3 L472.9,587.2 L473.8,588.1 L474.6,589.1 L475.3,590.0 L476.1,591.0 L476.9,591.9 L477.7,592.9 L478.5,593.9 L479.3,594.9 L480.1,596.0 L480.9,597.0 L481.8,598.1 L482.6,599.2 L483.4,600.2 L484.2,601.3 L485.0,602.3 L485.8,603.3 L486.5,604.3 L487.3,605.3 L488.0,606.2 L488.7,607.2 L489.5,608.1 L490.2,609.1 L490.9,610.0 L491.6,610.9 L492.3,611.8 L493.0,612.7 L493.7,613.6 L494.3,614.5 L495.0,615.3 L495.6,616.2 L496.2,617.0 L496.8,617.8 L497.5,618.7 L498.1,619.5 L498.7,620.3 L499.3,621.1 L499.8,621.8 L500.3,622.4 L500.6,622.8 L500.9,623.2 L501.0,623.4 L501.1,623.5 L501.1,623.5 L501.1,623.5 L501.1,623.5 L501.0,623.4 L501.1,623.4"/>
<path d="M337.5,522.5 L337.8,522.4 L338.1,522.2 L338.5,521.9 L339.0,521.7 L339.5,521.4 L340.0,521.2 L340.5,521.0 L341.0,520.8 L341.5,520.7 L341.9,520.5 L342.4,520.4 L342.8,520.3 L343.3,520.2 L343.8,520.1 L344.4,520.1 L345.0,520.0 L345.6,520.0 L346.3,519.9 L347.0,519.9 L347.8,520.0 L348.6,520.0 L349.4,520.0 L350.2,520.0 L351.0,520.1 L351.9,520.2 L352.8,520.2 L353.8,520.3 L354.7,520.4 L355.7,520.5 L356.6,520.6 L357.6,520.8 L358.4,520.9 L359.0,521.0 L359.4,521.1 L359.7,521.1 L360.0,521.2 L360.5,521.3 L361.2,521.5 L362.3,521.9 L364.0,522.5 L366.4,523.3 L369.5,524.4 L373.0,525.7 L376.8,527.0 L380.7,528.4 L384.4,529.7 L387.7,531.0 L390.4,532.0 L392.6,532.8 L394.4,533.6 L396.0,534.3 L397.4,534.9 L398.5,535.5 L399.6,536.0 L400.6,536.5 L401.6,537.0 L402.5,537.4 L403.2,537.7 L403.7,537.9 L404.2,538.1 L404.6,538.3 L405.1,538.6 L405.6,538.9 L406.2,539.3 L407.0,539.8 L407.9,540.4 L408.8,541.0 L409.7,541.6 L410.7,542.3 L411.7,543.0 L412.6,543.7 L413.6,544.4 L414.5,545.0 L415.4,545.7 L416.4,546.4 L417.3,547.1 L418.3,547.8 L419.2,548.5 L420.1,549.2 L421.0,549.8 L421.9,550.5 L422.7,551.1 L423.4,551.7 L424.2,552.3 L425.0,552.9 L425.8,553.6 L426.7,554.2 L427.6,555.0 L428.6,555.7 L429.6,556.5 L430.7,557.4 L431.8,558.3 L432.9,559.2 L434.1,560.0 L435.2,560.9 L436.2,561.8 L437.2,562.7 L438.2,563.5 L439.2,564.3 L440.2,565.2 L441.2,566.0 L442.2,566.9 L443.1,567.8 L444.1,568.7 L445.0,569.6 L446.0,570.5 L446.9,571.5 L447.8,572.4 L448.7,573.4 L449.7,574.3 L450.6,575.3 L451.5,576.3 L452.5,577.3 L453.5,578.4 L454.5,579.4 L455.5,580.5 L456.5,581.5 L457.5,582.6 L458.5,583.6 L459.4,584.6 L460.3,585.6 L461.2,586.6 L462.0,587.5 L462.8,588.4 L463.7,589.3 L464.5,590.3 L465.2,591.2 L466.0,592.1 L466.7,593.0 L467.4,593.9 L468.1,594.8 L468.8,595.8 L469.4,596.7 L470.1,597.6 L470.7,598.6 L471.4,599.6 L472.2,600.6 L472.9,601.7 L473.7,602.8 L474.5,603.9 L475.3,605.1 L476.0,606.2 L476.8,607.3 L477.5,608.4 L478.2,609.4 L478.9,610.4 L479.6,611.4 L480.3,612.4 L481.0,613.4 L481.6,614.4 L482.3,615.4 L482.9,616.3 L483.6,617.3 L484.2,618.2 L484.8,619.2 L485.4,620.1 L486.1,621.0 L486.7,621.9 L487.2,622.8 L487.8,623.6 L488.4,624.5 L489.0,625.4 L489.5,626.2 L490.1,627.1 L490.6,627.9 L491.1,628.6 L491.5,629.2 L491.8,629.7 L492.1,630.1 L492.2,630.3 L492.3,630.4 L492.3,630.4 L492.3,630.4 L492.3,630.4 L492.2,630.3 L492.2,630.3"/>
<path d="M339.2,525.9 L339.6,525.8 L340.0,525.8 L340.6,525.7 L341.2,525.6 L341.9,525.5 L342.6,525.4 L343.3,525.3 L344.0,525.2 L344.7,525.1 L345.4,525.1 L346.1,525.0 L346.9,525.0 L347.6,524.9 L348.4,524.9 L349.2,524.9 L350.0,525.0 L350.8,525.1 L351.7,525.2 L352.6,525.4 L353.5,525.6 L354.4,525.8 L355.3,526.0 L356.1,526.2 L357.0,526.5 L357.7,526.8 L358.2,527.0 L358.6,527.3 L359.1,527.6 L359.6,527.9 L360.5,528.3 L361.7,528.7 L363.4,529.2 L365.8,529.8 L368.7,530.5 L372.1,531.3 L375.7,532.1 L379.4,533.0 L382.9,533.8 L386.1,534.6 L388.7,535.4 L390.9,536.1 L392.8,536.8 L394.4,537.5 L395.9,538.2 L397.1,538.9 L398.3,539.5 L399.3,540.1 L400.3,540.5 L401.2,540.9 L401.8,541.2 L402.3,541.4 L402.7,541.6 L403.0,541.7 L403.4,541.9 L403.8,542.2 L404.4,542.6 L405.2,543.1 L406.0,543.6 L406.8,544.2 L407.7,544.8 L408.7,545.5 L409.6,546.2 L410.6,546.8 L411.5,547.5 L412.4,548.1 L413.3,548.8 L414.3,549.5 L415.2,550.2 L416.2,550.9 L417.1,551.6 L418.0,552.2 L418.9,552.9 L419.7,553.5 L420.5,554.2 L421.3,554.8 L422.1,555.4 L422.8,556.0 L423.6,556.6 L424.5,557.3 L425.4,558.0 L426.4,558.8 L427.4,559.6 L428.5,560.4 L429.6,561.3 L430.8,562.2 L431.9,563.1 L433.0,564.0 L434.0,564.8 L435.0,565.6 L436.0,566.5 L437.0,567.3 L438.0,568.1 L438.9,568.9 L439.8,569.8 L440.8,570.6 L441.7,571.5 L442.6,572.4 L443.6,573.3 L444.5,574.2 L445.4,575.1 L446.3,576.1 L447.2,577.0 L448.1,578.0 L449.0,579.0 L450.0,580.0 L451.0,581.0 L452.0,582.1 L453.0,583.2 L454.0,584.2 L455.0,585.3 L456.0,586.3 L456.9,587.3 L457.8,588.3 L458.7,589.2 L459.5,590.1 L460.3,591.0 L461.1,591.9 L461.9,592.8 L462.6,593.7 L463.4,594.6 L464.1,595.5 L464.8,596.4 L465.4,597.3 L466.0,598.1 L466.7,599.0 L467.3,599.9 L468.0,600.9 L468.7,601.8 L469.4,602.9 L470.1,603.9 L470.9,605.1 L471.7,606.2 L472.5,607.3 L473.2,608.4 L474.0,609.5 L474.7,610.6 L475.5,611.7 L476.2,612.7 L476.8,613.7 L477.5,614.7 L478.2,615.6 L478.8,616.6 L479.5,617.6 L480.1,618.5 L480.8,619.5 L481.4,620.4 L482.1,621.3 L482.7,622.3 L483.3,623.2 L483.9,624.1 L484.5,624.9 L485.0,625.8 L485.6,626.6 L486.2,627.5 L486.8,628.4 L487.3,629.3 L487.9,630.1 L488.3,630.8 L488.8,631.4 L489.1,631.9 L489.3,632.2 L489.4,632.4 L489.5,632.5 L489.5,632.6 L489.5,632.6 L489.5,632.5 L489.5,632.5 L489.5,632.5"/></g>
<g clip-path="url(#fc2)"><path d="M364.0,527.7 L366.0,528.6 L368.1,529.7 L370.6,531.0 L373.2,532.4 L375.9,533.9 L378.7,535.4 L381.4,536.9 L384.1,538.3 L386.7,539.7 L389.1,540.9 L391.4,542.1 L393.7,543.1 L395.7,543.9 L397.4,544.6 L398.7,545.2 L399.7,545.6 L400.3,545.8 L400.6,546.0 L400.9,546.2 L401.3,546.5 L402.0,547.0 L402.8,547.6 L403.8,548.3 L404.9,549.1 L406.1,549.9 L407.3,550.8 L408.6,551.8 L409.9,552.8 L411.3,553.8 L412.6,554.8 L413.8,555.7 L414.9,556.5 L415.9,557.3 L416.9,558.1 L417.8,558.9 L418.9,559.7 L419.9,560.6 L421.0,561.5 L422.2,562.5 L423.5,563.5 L424.9,564.7 L426.4,565.9 L427.8,567.1 L429.2,568.3 L430.7,569.5 L432.0,570.7 L433.3,571.8 L434.6,572.9 L435.7,574.0 L436.8,575.1 L437.8,576.1 L438.9,577.2 L440.0,578.4 L441.1,579.6 L442.3,580.9 L443.5,582.2 L444.7,583.6 L446.0,585.0 L447.3,586.5 L448.6,587.9 L449.9,589.4 L451.2,590.8 L452.4,592.1 L453.5,593.5 L454.6,594.7 L455.7,596.0 L456.6,597.2 L457.5,598.3 L458.4,599.4 L459.1,600.5 L459.8,601.5 L460.5,602.6 L461.3,603.8 L462.1,605.1 L463.0,606.4 L463.9,607.8 L464.8,609.3 L465.8,610.8 L466.9,612.4 L467.9,614.0 L468.8,615.4 L469.7,616.8 L470.6,618.1 L471.4,619.5 L472.3,620.8 L473.1,622.1 L473.9,623.5 L474.8,624.7 L475.6,626.0 L476.3,627.2 L477.1,628.4 L477.8,629.6 L478.6,630.9 L479.3,632.1 L480.0,633.3 L480.7,634.4 L481.3,635.4 L481.9,636.3 L482.4,637.1 L482.8,637.8"/>
<path d="M362.2,531.6 L364.1,532.5 L366.2,533.6 L368.6,534.8 L371.2,536.2 L374.0,537.7 L376.8,539.2 L379.5,540.7 L382.2,542.1 L384.8,543.5 L387.3,544.8 L389.8,546.0 L392.1,547.0 L394.2,547.9 L395.9,548.6 L397.3,549.1 L398.2,549.5 L398.8,549.7 L399.0,549.9 L399.1,550.0 L399.4,550.2 L399.9,550.6 L400.7,551.1 L401.7,551.8 L402.7,552.5 L403.9,553.4 L405.1,554.3 L406.3,555.2 L407.7,556.2 L409.0,557.2 L410.4,558.2 L411.6,559.1 L412.6,559.9 L413.6,560.7 L414.6,561.4 L415.5,562.2 L416.5,563.0 L417.6,563.9 L418.7,564.8 L419.9,565.7 L421.2,566.8 L422.6,567.9 L424.1,569.1 L425.5,570.3 L427.0,571.5 L428.4,572.7 L429.7,573.8 L431.0,574.9 L432.2,576.0 L433.3,577.0 L434.4,578.0 L435.4,579.0 L436.4,580.1 L437.5,581.3 L438.6,582.4 L439.8,583.7 L440.9,585.0 L442.2,586.3 L443.4,587.7 L444.7,589.1 L446.1,590.6 L447.4,592.0 L448.7,593.4 L449.9,594.8 L451.1,596.1 L452.2,597.3 L453.2,598.5 L454.1,599.7 L455.0,600.8 L455.8,601.8 L456.5,602.8 L457.2,603.8 L457.9,604.9 L458.7,606.0 L459.5,607.2 L460.3,608.6 L461.3,609.9 L462.2,611.4 L463.2,612.9 L464.3,614.5 L465.3,616.1 L466.3,617.5 L467.2,618.8 L468.0,620.2 L468.9,621.5 L469.8,622.8 L470.6,624.1 L471.4,625.4 L472.3,626.7 L473.1,628.0 L473.9,629.2 L474.6,630.4 L475.4,631.6 L476.1,632.8 L476.9,634.0 L477.6,635.1 L478.3,636.2 L479.0,637.3 L479.5,638.2 L480.0,639.0 L480.4,639.6"/>
<path d="M360.2,535.6 L362.1,536.5 L364.2,537.6 L366.6,538.9 L369.2,540.3 L371.9,541.8 L374.7,543.3 L377.4,544.9 L380.1,546.4 L382.7,547.8 L385.3,549.1 L387.8,550.4 L390.3,551.5 L392.4,552.5 L394.3,553.2 L395.7,553.8 L396.5,554.2 L397.0,554.4 L397.0,554.5 L396.9,554.6 L397.0,554.7 L397.4,555.1 L398.1,555.6 L398.9,556.3 L399.9,557.0 L401.0,557.8 L402.1,558.7 L403.4,559.7 L404.7,560.7 L406.0,561.8 L407.3,562.8 L408.5,563.7 L409.4,564.5 L410.4,565.3 L411.3,566.1 L412.2,566.9 L413.2,567.7 L414.2,568.6 L415.3,569.5 L416.4,570.5 L417.7,571.6 L419.1,572.8 L420.5,574.1 L422.0,575.3 L423.3,576.5 L424.7,577.7 L426.0,578.9 L427.2,580.1 L428.3,581.2 L429.3,582.2 L430.2,583.2 L431.0,584.2 L432.0,585.2 L432.9,586.4 L434.0,587.6 L435.0,588.9 L436.1,590.2 L437.3,591.6 L438.5,593.0 L439.7,594.5 L441.0,596.0 L442.3,597.5 L443.5,599.0 L444.7,600.4 L445.8,601.7 L446.8,603.0 L447.7,604.2 L448.5,605.3 L449.3,606.4 L450.0,607.4 L450.5,608.4 L451.0,609.3 L451.6,610.3 L452.2,611.4 L452.9,612.7 L453.7,614.0 L454.5,615.4 L455.3,616.9 L456.3,618.5 L457.3,620.1 L458.3,621.8 L459.2,623.2 L460.0,624.6 L460.8,626.0 L461.6,627.4 L462.4,628.7 L463.1,630.1 L463.9,631.4 L464.7,632.7 L465.4,634.0 L466.1,635.3 L466.8,636.5 L467.5,637.8 L468.2,639.0 L468.9,640.2 L469.6,641.4 L470.2,642.6 L470.8,643.6 L471.3,644.6 L471.8,645.4 L472.2,646.1"/>
<path d="M358.5,539.2 L360.3,540.1 L362.4,541.2 L364.8,542.5 L367.4,543.9 L370.1,545.4 L372.9,546.9 L375.6,548.4 L378.4,549.9 L381.0,551.4 L383.6,552.7 L386.3,554.0 L388.8,555.2 L391.1,556.2 L393.0,556.9 L394.4,557.5 L395.2,557.9 L395.5,558.1 L395.5,558.1 L395.3,558.1 L395.2,558.2 L395.5,558.5 L396.1,559.0 L396.9,559.6 L397.8,560.3 L398.9,561.1 L400.0,562.0 L401.2,562.9 L402.5,563.9 L403.9,565.0 L405.2,566.0 L406.3,566.9 L407.3,567.7 L408.2,568.5 L409.1,569.2 L410.1,570.0 L411.0,570.8 L412.0,571.7 L413.1,572.6 L414.2,573.6 L415.5,574.7 L416.9,575.9 L418.4,577.1 L419.8,578.4 L421.2,579.6 L422.5,580.7 L423.8,581.9 L425.0,583.0 L426.0,584.1 L427.0,585.1 L427.9,586.0 L428.7,587.0 L429.6,588.0 L430.5,589.1 L431.5,590.3 L432.6,591.5 L433.7,592.8 L434.9,594.2 L436.1,595.6 L437.3,597.1 L438.6,598.6 L439.9,600.1 L441.2,601.5 L442.3,602.9 L443.4,604.2 L444.4,605.5 L445.3,606.7 L446.1,607.8 L446.9,608.8 L447.5,609.8 L448.0,610.7 L448.5,611.6 L449.1,612.5 L449.7,613.6 L450.3,614.8 L451.1,616.1 L451.9,617.5 L452.8,618.9 L453.7,620.5 L454.8,622.2 L455.8,623.8 L456.7,625.3 L457.5,626.6 L458.3,628.0 L459.1,629.3 L459.9,630.7 L460.7,632.0 L461.4,633.4 L462.2,634.7 L463.0,636.0 L463.7,637.2 L464.4,638.4 L465.1,639.7 L465.8,640.9 L466.5,642.1 L467.2,643.3 L467.8,644.5 L468.4,645.5 L469.0,646.5 L469.4,647.3 L469.8,647.9"/>
<path d="M356.5,543.3 L358.4,544.2 L360.4,545.2 L362.7,546.5 L365.3,547.9 L368.0,549.4 L370.8,551.0 L373.5,552.6 L376.3,554.1 L378.9,555.6 L381.6,557.0 L384.3,558.4 L387.0,559.6 L389.3,560.7 L391.3,561.5 L392.7,562.1 L393.5,562.5 L393.8,562.7 L393.6,562.7 L393.2,562.6 L392.9,562.6 L393.1,562.9 L393.6,563.3 L394.3,563.9 L395.1,564.6 L396.1,565.4 L397.1,566.3 L398.3,567.3 L399.6,568.3 L400.9,569.4 L402.2,570.5 L403.3,571.4 L404.3,572.2 L405.1,573.0 L406.0,573.8 L406.9,574.6 L407.8,575.4 L408.8,576.3 L409.8,577.2 L410.9,578.2 L412.1,579.3 L413.6,580.6 L415.0,581.9 L416.4,583.1 L417.7,584.4 L419.0,585.6 L420.2,586.8 L421.3,587.9 L422.3,589.0 L423.2,590.0 L423.9,590.9 L424.6,591.8 L425.4,592.8 L426.3,593.9 L427.2,595.1 L428.1,596.4 L429.2,597.7 L430.3,599.1 L431.4,600.5 L432.6,602.0 L433.9,603.6 L435.2,605.2 L436.4,606.7 L437.5,608.1 L438.5,609.4 L439.4,610.7 L440.2,611.9 L440.9,613.0 L441.6,614.0 L442.1,615.0 L442.5,615.8 L442.8,616.7 L443.2,617.6 L443.7,618.6 L444.3,619.8 L444.9,621.1 L445.6,622.5 L446.5,624.0 L447.4,625.6 L448.4,627.3 L449.3,629.0 L450.2,630.5 L450.9,631.9 L451.7,633.3 L452.4,634.7 L453.1,636.1 L453.9,637.5 L454.6,638.8 L455.3,640.2 L456.0,641.5 L456.7,642.8 L457.3,644.0 L458.0,645.3 L458.6,646.6 L459.3,647.8 L459.9,649.0 L460.5,650.2 L461.0,651.3 L461.5,652.3 L462.0,653.1 L462.3,653.8"/>
<path d="M354.8,546.9 L356.6,547.8 L358.6,548.8 L360.9,550.1 L363.5,551.5 L366.2,553.0 L369.0,554.6 L371.7,556.1 L374.5,557.7 L377.2,559.2 L379.9,560.7 L382.7,562.1 L385.5,563.4 L387.9,564.4 L390.0,565.3 L391.4,565.9 L392.2,566.3 L392.3,566.4 L392.0,566.4 L391.4,566.2 L391.1,566.2 L391.2,566.4 L391.6,566.8 L392.2,567.3 L393.0,568.0 L393.9,568.8 L394.9,569.7 L396.1,570.6 L397.4,571.7 L398.7,572.8 L400.0,573.8 L401.1,574.7 L402.0,575.5 L402.9,576.3 L403.7,577.1 L404.6,577.8 L405.5,578.6 L406.4,579.5 L407.4,580.4 L408.6,581.5 L409.8,582.6 L411.2,583.9 L412.7,585.1 L414.1,586.4 L415.4,587.6 L416.7,588.8 L417.8,590.0 L418.9,591.1 L419.9,592.2 L420.7,593.1 L421.4,594.0 L422.0,594.9 L422.8,595.9 L423.6,596.9 L424.5,598.1 L425.4,599.3 L426.5,600.6 L427.5,602.0 L428.7,603.4 L429.9,605.0 L431.2,606.5 L432.4,608.1 L433.6,609.6 L434.7,611.0 L435.7,612.3 L436.6,613.6 L437.4,614.8 L438.1,615.8 L438.7,616.8 L439.2,617.8 L439.5,618.6 L439.8,619.3 L440.2,620.2 L440.6,621.2 L441.2,622.3 L441.8,623.6 L442.5,625.0 L443.3,626.5 L444.2,628.1 L445.2,629.8 L446.2,631.5 L447.1,633.0 L447.8,634.4 L448.5,635.8 L449.3,637.2 L450.0,638.6 L450.7,640.0 L451.5,641.3 L452.2,642.7 L452.9,644.0 L453.6,645.3 L454.2,646.5 L454.8,647.8 L455.5,649.0 L456.1,650.3 L456.7,651.5 L457.3,652.7 L457.9,653.8 L458.4,654.7 L458.8,655.6 L459.2,656.3"/>
<path d="M352.8,550.9 L354.6,551.8 L356.6,552.9 L358.9,554.1 L361.4,555.6 L364.1,557.1 L366.8,558.8 L369.6,560.4 L372.3,562.0 L375.1,563.6 L377.8,565.1 L380.8,566.6 L383.6,568.0 L386.2,569.2 L388.2,570.1 L389.7,570.7 L390.4,571.1 L390.4,571.2 L389.9,571.2 L389.2,571.0 L388.6,570.9 L388.5,571.1 L388.8,571.5 L389.3,572.0 L390.0,572.7 L390.9,573.5 L391.8,574.4 L392.9,575.4 L394.2,576.5 L395.5,577.6 L396.8,578.7 L397.8,579.7 L398.6,580.5 L399.5,581.3 L400.2,582.1 L401.0,582.9 L401.9,583.7 L402.8,584.6 L403.7,585.6 L404.8,586.7 L406.0,587.9 L407.4,589.2 L408.8,590.6 L410.2,591.9 L411.4,593.2 L412.6,594.4 L413.7,595.7 L414.7,596.8 L415.5,597.9 L416.2,598.8 L416.7,599.7 L417.2,600.6 L417.8,601.6 L418.5,602.7 L419.3,603.9 L420.1,605.1 L421.0,606.5 L422.0,607.9 L423.1,609.4 L424.2,611.0 L425.4,612.7 L426.6,614.3 L427.8,615.9 L428.8,617.4 L429.7,618.8 L430.5,620.1 L431.1,621.3 L431.7,622.4 L432.1,623.3 L432.4,624.2 L432.6,625.0 L432.7,625.7 L432.8,626.5 L433.1,627.5 L433.5,628.6 L434.0,629.9 L434.6,631.3 L435.3,632.9 L436.1,634.6 L437.0,636.4 L438.0,638.2 L438.7,639.8 L439.4,641.2 L440.0,642.7 L440.6,644.1 L441.3,645.6 L441.9,647.0 L442.5,648.4 L443.2,649.8 L443.8,651.2 L444.4,652.6 L444.9,653.8 L445.5,655.1 L446.0,656.5 L446.6,657.8 L447.1,659.0 L447.6,660.3 L448.1,661.4 L448.6,662.4 L449.0,663.3 L449.3,664.0"/>
<path d="M351.1,554.5 L352.9,555.4 L354.8,556.4 L357.1,557.7 L359.6,559.1 L362.3,560.7 L365.0,562.3 L367.8,564.0 L370.6,565.6 L373.3,567.2 L376.1,568.7 L379.2,570.3 L382.1,571.7 L384.7,572.9 L386.9,573.8 L388.4,574.5 L389.1,574.9 L389.0,575.0 L388.4,574.9 L387.5,574.6 L386.8,574.4 L386.6,574.6 L386.8,574.9 L387.2,575.4 L387.9,576.0 L388.7,576.8 L389.7,577.7 L390.7,578.7 L392.0,579.8 L393.3,580.9 L394.6,582.0 L395.6,583.0 L396.4,583.8 L397.2,584.6 L398.0,585.3 L398.8,586.1 L399.6,587.0 L400.5,587.9 L401.4,588.8 L402.5,589.9 L403.7,591.1 L405.1,592.4 L406.5,593.8 L407.9,595.1 L409.1,596.4 L410.3,597.6 L411.4,598.8 L412.3,599.9 L413.1,601.0 L413.7,601.9 L414.2,602.7 L414.7,603.6 L415.3,604.6 L415.9,605.6 L416.6,606.8 L417.5,608.0 L418.4,609.3 L419.3,610.8 L420.4,612.3 L421.5,613.9 L422.8,615.5 L424.0,617.2 L425.1,618.8 L426.1,620.2 L427.0,621.6 L427.8,622.9 L428.4,624.1 L429.0,625.1 L429.3,626.1 L429.6,626.9 L429.7,627.6 L429.8,628.3 L429.9,629.1 L430.1,630.0 L430.5,631.1 L431.0,632.3 L431.6,633.7 L432.3,635.3 L433.1,637.0 L434.0,638.8 L435.0,640.7 L435.7,642.2 L436.4,643.7 L437.0,645.1 L437.6,646.5 L438.3,647.9 L438.9,649.4 L439.5,650.8 L440.2,652.2 L440.8,653.6 L441.4,654.9 L441.9,656.2 L442.5,657.5 L443.0,658.8 L443.6,660.1 L444.1,661.4 L444.6,662.6 L445.1,663.7 L445.6,664.8 L446.0,665.7 L446.3,666.4"/></g>
<path d="M337.5,517.8 C336,518.5 336,519.5 337.5,520 M337.5,522.5 C336.3,523.8 337.2,525.3 339.2,525.9"/>
<!-- fin scallops -->
<path d="M455.500,566 C458.500,563.500 463,564 466.500,567 C470,571 472,576 472.500,581"/>
<path d="M444,574.500 C447.500,572.500 452,573.500 455,577 C458,581 459.500,586 459.500,591"/>
<path d="M426.500,589 C431,586 437,588 440.500,593.500 C443,598 444,603 443.500,608"/>
<path d="M424,598.500 C429,596.500 434,599.500 436.500,605.500 C438,610 438,614 437,618"/>
<!-- curve joining box and fins -->
<path d="M418,610 L418,597 C418.500,590 422,584 428,580 C431,578 433,577 433,580.500"/>
<path d="M420.500,612 L420.500,598.500 C421,592 424.500,587 430,584"/>

<!-- posts -->
<path d="M371.200,533.400 L371.200,557.500 C373,560.500 380.500,560.500 382.400,557.500 L382.400,533.400" class="w"/>
<ellipse cx="376.800" cy="533.400" rx="5.600" ry="2.700" class="w"/>
<ellipse cx="376.900" cy="533.300" rx="2.600" ry="1.300"/>
<path d="M389,554.500 L389,570.500 C391.500,574 400,574 402.400,570.500 L402.400,554.500" class="w"/>
<ellipse cx="395.700" cy="554.500" rx="6.700" ry="3.200" class="w"/>
<ellipse cx="395.800" cy="554.400" rx="3.600" ry="1.700" stroke-width="1.43"/>

<!-- posts behind centre boss -->
<path d="M339,609 L339,595.600 L346.800,595.600 L351.200,599 L351.200,623.400 M343.500,598.800 L351.200,599 M343.500,598.800 L343.500,611 M339,595.600 L343.500,598.800"/>
<path d="M351.200,613.400 L370.100,593.400 M354.500,620 L370.100,602.500 M351.200,623.400 C358,626 366,623.500 370.100,617 L373.500,612"/>
<!-- centre boss -->
<path d="M324.500,613.400 L324.500,630.500 L334.500,637 L344.500,632 L344.500,613.400" class="w"/>
<ellipse cx="334.500" cy="613.400" rx="10" ry="4.800" class="w"/>
<ellipse cx="334.500" cy="613.200" rx="4.600" ry="2.300"/>
<path d="M334.500,618.500 L334.500,637" stroke-dasharray="3 2"/>
<path d="M334.500,637 L334.500,678" stroke-dasharray="4 2.5"/>
<!-- screw boss -->
<path d="M375.300,611.200 L375.300,616.500 C377.500,620.500 388,620.500 390.300,616.500 L390.300,611.200" class="w"/>
<ellipse cx="382.800" cy="611.200" rx="7.500" ry="4.300" class="w"/>
<ellipse cx="382.800" cy="611" rx="4.300" ry="2.400"/>

<!-- flange -->
<path d="M344.500,632 L356,630 L369,627.800 L375.500,620.500 M390.300,618.500 L397.900,627.800 L406.800,625.600 L413.500,622.300 L426.900,632.300 L426.900,640.100 L413.500,649 L406.800,644.500"/>
<path d="M404.600,637.500 L389,638 C382,639.500 377,642.500 373.500,645.800 C368,651 362,658 357.500,664.400 C352,671 348.500,675 346.600,678.400 L335.600,703.400 L324.700,730 C326,733 325.500,736.500 323.900,739.400 C322.500,743 320.500,746 318.400,748.800 L304.400,769.100"/>
<path d="M371.200,632.300 C365,637 360,641.500 357.900,642.300 C352,647 346,652.500 343.400,656.600 C341.500,660.500 341.500,665 341.900,669.100 L329.400,698.800 L316.900,730 C313.500,732 310.500,734.500 309.100,737.800 C307.500,741.500 307,745 307.500,748.800 L295.800,772.200"/>
<ellipse cx="365.300" cy="646.400" rx="2.800" ry="4.800" transform="rotate(32 365.300 646.400)"/>
<ellipse cx="348.900" cy="659.700" rx="2.800" ry="4.800" transform="rotate(32 348.900 659.700)"/>
<ellipse cx="420.200" cy="640.100" rx="2.800" ry="4.800" transform="rotate(32 420.200 640.100)"/>
<ellipse cx="315.300" cy="742.500" rx="3.600" ry="5.400" transform="rotate(25 315.300 742.500)"/>
<ellipse cx="315.300" cy="742.500" rx="1.700" ry="3" transform="rotate(25 315.300 742.500)" stroke-width="0.91"/>
<path d="M332.500,648.800 L307.500,711.300 M334.800,669.100 L309.100,723.800"/>
<!-- hook -->
<path d="M408,642.300 L415.800,651.200 L424.600,652.300 C426.500,653.500 427,655.500 426.900,657.900 L422.400,665.700 M419.100,653.400 L413.500,669"/>
<!-- lines under right block -->
<path d="M317.500,633 L330,636.500"/>

<!-- right housing (near part 4) -->
<path d="M640.4,790.6 C636,788.5 632,787.8 627.9,787.8 C623,787.8 618.5,788 614.1,789.2 C610,790.5 606.5,792.3 603,793.3 C598,794.8 593,794.5 589.2,796.1 C586,797.8 584,800 582.3,803 C580.500,806 580,809 578.1,811.3 C575,814.500 571,815.500 568.4,818.3 C566,821 564.8,823.500 564.3,826.6 C563.500,830 563.500,833 562.9,836.2 C561.500,842 558.500,847.500 556,852.9 L547.7,869.5 L540.8,883.3 C538,888 534.500,892 532.5,897.1 C530.500,902.500 531.500,908 531.1,913.7 C530.500,919.500 528,925 525.5,930.4 L520,938.7"/>
<path d="M614.1,818.3 C610,821 606.500,824.500 603,827.9 C598,832.500 593.500,837 589.2,841.8 C584,848 579.500,854.500 575.4,861.2 L561.5,883.3 L550.4,902.7 C547.500,909.500 545,917 543.5,924.8 L538,948.3"/>
<path d="M607.2,798.9 L663.9,829.3 M586.4,815.5 L603,823.8 M569.8,836.2 L582.3,843.2 M616.9,823.8 L650.1,843.2 M540.8,893 L549.1,898.5 M532.5,917.9 L543.5,924.8"/>
<path d="M657,841.8 C647,850 638,860 630.7,869.5 C622,880 615,890 608.6,899.9 C602,910 596.500,920 592,930.4 C589.500,936 587.500,941 586.4,945.6 C586.500,948.500 587.500,950.500 589.2,952.5"/>
<path d="M658.4,848.7 C650,857 643,866 636.2,875 C628,885 621,895 614.1,905.4 C607.500,915.500 602,925.500 597.5,935.9 C594.500,942 591.500,947.500 589.2,952.5"/>
<path d="M658.9,851.7 C651.5,859.2 644.5,867.4 637.7,876.4 C629.5,886.4 622.5,896.4 615.6,906.8 C609.0,916.9 603.5,926.9 599.0,937.2 L593.4,953.2" stroke-width="0.91"/>
<path d="M659.3,854.6 C653.0,861.3 646.0,868.7 639.2,877.7 C631.0,887.7 624.0,897.7 617.1,908.1 C610.5,918.2 605.0,928.2 600.5,938.6 L596.2,953.9" stroke-width="0.91"/>
<path d="M659.8,857.6 C654.5,863.5 647.5,870.0 640.7,879.0 C632.5,889.0 625.5,899.0 618.6,909.4 C612.0,919.5 606.5,929.5 602.0,939.9 L599.0,954.5" stroke-width="0.91"/>
<path d="M660.2,860.6 C656.0,865.6 649.0,871.4 642.2,880.4 C634.0,890.4 627.0,900.4 620.1,910.8 C613.5,920.9 608.0,930.9 603.5,941.3 L601.9,955.2" stroke-width="0.91"/>
<path d="M660.6,863.6 C657.5,867.8 650.5,872.8 643.7,881.8 C635.5,891.8 628.5,901.8 621.6,912.1 C615.0,922.2 609.5,932.2 605.0,942.6 L604.8,955.9" stroke-width="0.91"/>
<path d="M661.1,866.5 C659.0,870.0 652.0,874.1 645.2,883.1 C637.0,893.1 630.0,903.1 623.1,913.5 C616.5,923.6 611.0,933.6 606.5,944.0 L607.6,956.5" stroke-width="0.91"/>
<path d="M661.5,869.5 C660.5,872.1 653.5,875.5 646.7,884.5 C638.5,894.5 631.5,904.5 624.6,914.9 C618.0,925.0 612.5,935.0 608.0,945.4 L610.5,957.2" stroke-width="0.91"/>
</g>
<!-- ===== BOTTOM PARTS ===== -->
<g class="d">
<!-- washer 9 lower -->
<path d="M349,686 L367.5,696 L367.5,719" stroke-width="1.35"/>
<path d="M359.6,722 L359.6,724 A10.4,5.2 0 0 0 380.4,724 L380.4,722" class="w" stroke-width="2.03"/>
<ellipse cx="370" cy="722" rx="10.2" ry="5" class="w" stroke-width="2.03"/>
<ellipse cx="369.5" cy="721.6" rx="4.6" ry="2.2" stroke-width="1.76"/>
<path d="M367.5,712 L367.5,720.5" stroke-width="1.35"/>
<path d="M379.8,718 L397.4,708.7" stroke-width="1.35"/>

<!-- shaft 8 -->
<path d="M363.8,743 L363.8,805.7 C364,810 366,813.5 370,815 C374,816.3 378,816 382.3,814.6 L386.8,814.1 L400.8,806.8 L400.8,793.4 L397.9,791.9 L381.2,802.3 C378,803 376,801.5 375.6,798 L375.6,743 Z" class="w" stroke-width="1.49"/>
<ellipse cx="369.7" cy="743" rx="5.9" ry="2.8" class="w" stroke-width="1.49"/>
<ellipse cx="369.7" cy="743" rx="3" ry="1.3" stroke-width="1.08"/>
<path d="M381.2,802.3 L384,804.5 L398.5,795.5 L398.5,807.8 M384,804.5 L384.5,814 M397.9,791.9 L398.5,795.5" stroke-width="1.35"/>
<path d="M375.6,798 C375.8,802.5 377.5,805.5 381.5,806" stroke-width="1.22"/>
<circle cx="366.5" cy="757.8" r="1.1" stroke-width="1.22"/>
<circle cx="364.3" cy="803.6" r="1.8" class="k" stroke="none"/><circle cx="375.3" cy="796.8" r="1.7" class="k" stroke="none"/><path d="M381.2,802.3 L397.9,791.9 L398.5,795.5 L384,804.5 Z" fill="#666" stroke-width="0.81"/>
<path d="M350,767.8 L366,758.2" stroke-width="1.35"/>
<!-- pin 10 -->
<g transform="rotate(-30 338.3 776.7)">
<rect x="325" y="773.6" width="27" height="6.2" rx="3" class="w" stroke-width="1.49"/>
<path d="M330.0,773.8 L331.8,779.6 M332.1,773.8 L333.9,779.6 M334.2,773.8 L336.0,779.6 M336.3,773.8 L338.1,779.6 M338.4,773.8 L340.2,779.6 M340.5,773.8 L342.3,779.6 M342.6,773.8 L344.4,779.6 M344.7,773.8 L346.5,779.6 M346.8,773.8 L348.6,779.6 M348.9,773.8 L350.7,779.6" stroke-width="1.76"/>
<path d="M328,776.7 L345,776.7" stroke-width="1.08"/>
</g>
<path d="M331.1,788.5 L327.8,805.7" stroke-width="1.35"/>
<path d="M357.8,832.4 L369,815.7" stroke-width="1.35"/>

<!-- collar 7 -->
<path d="M408.4,807.5 L423.8,816 L420.3,825.3 L405,815.9 Z" class="w" stroke="none"/>
<path d="M408.4,807.5 L423.4,815.9 M405,815.9 L420,825" stroke-width="1.49"/>
<ellipse cx="406.3" cy="811.7" rx="2.4" ry="4.7" transform="rotate(28 406.3 811.7)" class="w" stroke-width="1.49"/>
<ellipse cx="424.8" cy="821.6" rx="5.2" ry="10" transform="rotate(28 424.8 821.6)" class="w" stroke-width="1.49"/>
<ellipse cx="427" cy="822.8" rx="5.2" ry="10" transform="rotate(28 427 822.8)" class="w" stroke-width="1.62"/>
<ellipse cx="427.3" cy="823" rx="2.5" ry="5" transform="rotate(28 427.3 823)" stroke-width="1.35"/>
<path d="M423.5,774.5 L416.8,806.8" stroke-width="1.35"/>

<!-- washer 6 -->
<ellipse cx="439.8" cy="828.9" rx="7" ry="10.2" transform="rotate(28 439.8 828.9)" class="w" stroke-width="1.76"/>
<ellipse cx="442" cy="830.1" rx="7" ry="10.2" transform="rotate(28 442 830.1)" class="w" stroke-width="2.03"/>
<ellipse cx="442.2" cy="830.2" rx="3.4" ry="5.2" transform="rotate(28 442.2 830.2)" stroke-width="2.29"/>
<ellipse cx="442.4" cy="830.3" rx="1.5" ry="2.6" transform="rotate(28 442.4 830.3)" stroke-width="1.08"/>
<path d="M452.4,793.4 L444.6,820.1" stroke-width="1.35"/>

<!-- ring 5 -->
<path d="M456.8,830.2 L460.6,833.6 L460.2,840.2 L455.6,845 L450.8,844.6 L448,840.6 L449.2,834.4 L453.4,830.4 Z" stroke-width="1.76"/>
<path d="M456,833 L458.2,835.2 L457.9,839.6 L454.9,842.6 L452,842.3 L450.4,839.7 L451.2,835.6 L453.9,833 Z" stroke-width="1.22"/>
<path d="M477.2,808.8 L459.7,832.1" stroke-width="1.35"/>

<!-- bracket lines for gear -->
<path d="M458.4,856.7 L444.2,850.1 L444.2,912" stroke-width="1.49"/>
<path d="M485.1,884.3 L506.4,937.3 L453.8,966.5 L442.5,959.5" stroke-width="1.49"/>
<path d="M477.2,947 L489.5,957.5" stroke-width="1.35"/>
<path d="M450,919.8 L461.6,931.4" stroke-width="1.35"/>
<path d="M415.5,941.5 L431.5,952.5" stroke-width="1.35"/>

<!-- gear 1 -->
<path d="M471.7,889.0 L473.4,889.5 L475.1,889.8 L476.9,889.8 L478.7,889.7 L480.5,889.3 L482.4,888.8 L484.2,888.1 L486.1,887.1 L487.9,886.0 L489.7,884.7 L491.4,883.2 L493.1,881.6 L494.8,879.8 L496.3,877.9 L497.8,875.8 L499.2,873.6 L500.4,871.4 L501.6,869.0 L502.7,866.6 L503.6,864.1 L504.4,861.5 L505.1,858.9 L505.6,856.4 L506.0,853.8 L506.3,851.2 L506.4,848.7 L506.3,846.2 L506.1,843.8 L505.8,841.5 L505.3,839.2 L504.7,837.1 L504.0,835.1 L503.1,833.2 L502.1,831.5 L501.0,829.9 L499.8,828.5 L498.4,827.3 L497.0,826.3 L495.5,825.4 L493.9,824.8 L492.2,824.3 L490.5,824.0 L488.7,824.0 L486.9,824.1 L485.1,824.5 L483.2,825.0 L481.4,825.7 L479.5,826.7 L477.7,827.8 L475.9,829.1 L474.2,830.6 L472.5,832.2 L470.8,834.0 L469.3,835.9 L467.8,838.0 L466.4,840.2 L465.2,842.4 L464.0,844.8 L462.9,847.2 L462.0,849.7 L461.2,852.3 L460.5,854.9 L460.0,857.4 L459.6,860.0 L459.3,862.6 L459.2,865.1 L459.3,867.6 L459.5,870.0 L459.8,872.3 L460.3,874.6 L460.9,876.7 L461.6,878.7 L462.5,880.6 L463.5,882.3 L464.6,883.9 L465.8,885.3 L467.2,886.5 L468.6,887.5 L470.1,888.4 Z" class="w" stroke="none"/>
<path d="M499.5,828.3 L511.0,832.7" stroke-width="2.84" stroke-linecap="butt"/>
<path d="M496.3,825.9 L507.9,830.4" stroke-width="2.84" stroke-linecap="butt"/>
<path d="M492.8,824.4 L504.4,829.0" stroke-width="2.84" stroke-linecap="butt"/>
<path d="M488.9,824.0 L500.7,828.5" stroke-width="2.84" stroke-linecap="butt"/>
<path d="M484.9,824.5 L496.7,829.1" stroke-width="2.84" stroke-linecap="butt"/>
<path d="M480.8,826.0 L492.7,830.6" stroke-width="2.84" stroke-linecap="butt"/>
<path d="M476.7,828.5 L488.7,833.0" stroke-width="2.84" stroke-linecap="butt"/>
<path d="M472.8,831.8 L484.9,836.3" stroke-width="2.84" stroke-linecap="butt"/>
<path d="M469.3,835.9 L481.5,840.4" stroke-width="2.84" stroke-linecap="butt"/>
<path d="M466.1,840.7 L478.4,845.0" stroke-width="2.84" stroke-linecap="butt"/>
<path d="M463.5,845.9 L475.8,850.2" stroke-width="2.84" stroke-linecap="butt"/>
<path d="M461.4,851.4 L473.7,855.6" stroke-width="2.84" stroke-linecap="butt"/>
<path d="M460.0,857.2 L472.4,861.3" stroke-width="2.84" stroke-linecap="butt"/>
<path d="M459.3,862.9 L471.6,866.9" stroke-width="2.84" stroke-linecap="butt"/>
<path d="M459.3,868.4 L471.6,872.4" stroke-width="2.84" stroke-linecap="butt"/>
<path d="M460.0,873.6 L472.3,877.5" stroke-width="2.84" stroke-linecap="butt"/>
<path d="M461.4,878.3 L473.7,882.1" stroke-width="2.84" stroke-linecap="butt"/>
<path d="M463.5,882.3 L475.7,886.0" stroke-width="2.84" stroke-linecap="butt"/>
<path d="M466.1,885.5 L478.2,889.2" stroke-width="2.84" stroke-linecap="butt"/>
<path d="M469.3,887.9 L481.3,891.6" stroke-width="2.84" stroke-linecap="butt"/>
<path d="M472.8,889.4 L484.8,893.0" stroke-width="2.84" stroke-linecap="butt"/>
<path d="M476.7,889.8 L488.6,893.4" stroke-width="2.84" stroke-linecap="butt"/>
<path d="M500.9,829.8 L499.9,828.6 L498.8,827.6 L497.6,826.7 L496.4,825.9 L495.2,825.3 L493.9,824.8 L492.5,824.4 L491.1,824.1 L489.7,824.0 L488.2,824.0 L486.8,824.1 L485.3,824.4 L483.8,824.8 L482.3,825.4 L480.8,826.0 L479.3,826.8 L477.8,827.8 L476.3,828.8 L474.9,830.0 L473.5,831.2 L472.1,832.6 L470.8,834.1 L469.5,835.6 L468.3,837.3 L467.1,839.0 L466.0,840.8 L465.0,842.7 L464.1,844.6 L463.2,846.6 L462.4,848.6 L461.7,850.7 L461.1,852.8 L460.5,854.9 L460.1,857.0 L459.7,859.1 L459.5,861.2 L459.3,863.2 L459.2,865.3 L459.3,867.3 L459.4,869.3 L459.6,871.2 L459.9,873.1 L460.3,874.9 L460.8,876.6 L461.4,878.3 L462.1,879.8 L462.9,881.3 L463.7,882.7 L464.7,883.9 L465.7,885.1 L466.7,886.1 L467.9,887.0 L469.1,887.8 L470.3,888.5 L471.6,889.0 L473.0,889.4 L474.3,889.7 L475.8,889.8 L477.2,889.8 L478.7,889.7" stroke-width="1.08" stroke-dasharray="2.4 1.6"/>
<path d="M483.9,892.2 L485.5,892.6 L487.1,892.9 L488.9,892.9 L490.6,892.8 L492.4,892.4 L494.1,891.9 L495.9,891.2 L497.7,890.3 L499.5,889.2 L501.2,887.9 L502.9,886.5 L504.5,884.9 L506.1,883.2 L507.6,881.3 L509.0,879.3 L510.4,877.2 L511.6,875.0 L512.7,872.7 L513.8,870.3 L514.7,867.9 L515.4,865.4 L516.1,862.9 L516.6,860.4 L517.0,857.9 L517.2,855.4 L517.4,853.0 L517.3,850.6 L517.2,848.2 L516.8,846.0 L516.4,843.8 L515.8,841.7 L515.1,839.8 L514.3,838.0 L513.3,836.3 L512.2,834.8 L511.0,833.4 L509.7,832.2 L508.4,831.2 L506.9,830.4 L505.4,829.8 L503.8,829.3 L502.1,829.1 L500.4,829.0 L498.6,829.2 L496.9,829.5 L495.1,830.0 L493.3,830.8 L491.5,831.7 L489.8,832.8 L488.0,834.0 L486.4,835.5 L484.7,837.0 L483.1,838.8 L481.6,840.7 L480.2,842.7 L478.9,844.8 L477.6,847.0 L476.5,849.3 L475.5,851.6 L474.6,854.1 L473.8,856.5 L473.1,859.0 L472.6,861.5 L472.2,864.0 L472.0,866.5 L471.9,869.0 L471.9,871.4 L472.1,873.7 L472.4,876.0 L472.8,878.2 L473.4,880.2 L474.1,882.2 L475.0,884.0 L475.9,885.6 L477.0,887.2 L478.2,888.5 L479.5,889.7 L480.9,890.7 L482.3,891.5 Z" class="w" stroke-width="1.62"/>
<path d="M505.5,834.2 L504.7,833.8 L503.8,833.4 L502.8,833.2 L501.9,833.0 L500.9,832.9 L499.9,832.9 L498.9,833.0 L497.9,833.1 L496.8,833.3 L495.8,833.6 L494.7,833.9 L493.7,834.4 L492.7,834.9 L491.6,835.4 L490.6,836.1 L489.6,836.8 L488.6,837.6 L487.6,838.4 L486.6,839.3 L485.7,840.3 L484.8,841.3 L483.9,842.4 L483.0,843.5 L482.2,844.7 L481.4,845.9 L480.7,847.2 L479.9,848.5 L479.2,849.8 L478.6,851.2 L478.0,852.6 L477.5,854.0 L477.0,855.4 L476.5,856.9 L476.1,858.3 L475.8,859.8 L475.5,861.3 L475.2,862.7 L475.0,864.2 L474.9,865.7 L474.8,867.1 L474.7,868.5 L474.8,869.9 L474.8,871.3 L475.0,872.7 L475.2,874.0 L475.4,875.3 L475.7,876.5 L476.0,877.7 L476.4,878.9 L476.9,880.0 L477.3,881.0 L477.9,882.0 L478.5,883.0 L479.1,883.9 L479.8,884.7 L480.5,885.4 L481.2,886.1 L482.0,886.7 L482.8,887.3 L483.7,887.8" stroke-width="1.35"/>
<path d="M502.0,835.1 L501.2,834.9 L500.4,834.9 L499.6,834.8 L498.7,834.9 L497.9,835.0 L497.1,835.2 L496.2,835.4 L495.4,835.6 L494.5,836.0 L493.7,836.3 L492.8,836.8 L492.0,837.3 L491.1,837.8 L490.3,838.4 L489.5,839.0 L488.7,839.7 L487.9,840.4 L487.1,841.2 L486.3,842.0 L485.6,842.9 L484.8,843.8 L484.1,844.7 L483.4,845.7 L482.8,846.7 L482.1,847.7 L481.5,848.7 L480.9,849.8 L480.4,850.9 L479.9,852.1 L479.4,853.2 L478.9,854.4 L478.5,855.6 L478.1,856.8 L477.8,858.0 L477.4,859.2 L477.2,860.4 L476.9,861.6 L476.7,862.8 L476.6,864.0 L476.4,865.3 L476.4,866.4 L476.3,867.6 L476.3,868.8 L476.3,869.9 L476.4,871.1 L476.5,872.2 L476.7,873.3 L476.9,874.3 L477.1,875.4 L477.4,876.4 L477.7,877.3 L478.0,878.3 L478.4,879.1 L478.8,880.0 L479.3,880.8 L479.7,881.6 L480.2,882.3 L480.8,883.0 L481.4,883.6 L482.0,884.2" stroke-width="1.08"/>
<!-- hub -->
<path d="M496,829 C500,828 504,828.5 506.8,830 L515.1,841.7 L521.8,851.7 C523.5,855 523.5,858 522.6,860.1 L518.5,870.1 L510.1,881.8 C506,886 501,887.5 496,886.8 L486,884.5 C480,880 477.5,874 478.5,866.5 C480,856 486,842 496,829 Z" class="w" stroke-width="1.62"/>
<path d="M496,829 C490,838 483.5,850 482.5,862 C482,870 484,877 489.5,882.5" stroke-width="1.35"/>
<path d="M506.8,830 C512,832.5 516,836.5 516.5,841 M505.5,833 L513,840 L515.1,841.7" stroke-width="1.35"/>
<!-- weights -->
<path d="M488,853.5 L497.5,839.5 L503.5,842.5 L509.5,845.5 L513.5,847.8 L504.5,861.5 L497,858.5 Z" stroke-width="1.49"/>
<path d="M497.5,839.5 L499.5,837 L515.5,845 L513.5,847.8 M503.5,842.5 L494,856.5 M509.5,845.5 L500.5,859.5" stroke-width="1.22"/>
<path d="M487.5,857 L503.5,864.5 L502.5,868.5 L486.5,861 Z" stroke-width="1.35"/>
<path d="M489,864.5 L501.5,870.5 L500.5,874 L488.5,868.5" stroke-width="1.22"/>
<path d="M482.5,866.5 C484,870.5 488,874.5 494,877 L494,884.5 M494,877 L500,879.5 L500,886.5 M500,879.5 L506.5,876 L507,883.5" stroke-width="1.49"/>
<!-- shaft end -->
<ellipse cx="511.5" cy="870.5" rx="4.6" ry="6.3" transform="rotate(22 511.5 870.5)" class="w" stroke-width="1.49"/>
<path d="M505.5,863 C503,866 503,871 505,875.5 M507.5,864.5 L511,864.2 M506.5,876.3 L510,876.8" stroke-width="1.35"/>
<ellipse cx="512" cy="870.8" rx="2.2" ry="3.2" transform="rotate(22 512 870.8)" stroke-width="1.22"/>
<path d="M517,852 C519.5,856 519.5,860 517.5,864.5 M513.5,858 L517.5,864.5 L516.5,872" stroke-width="1.22"/>

<!-- washer 4 -->
<ellipse cx="525.6" cy="878.8" rx="6.2" ry="8.4" transform="rotate(25 525.6 878.8)" class="w" stroke-width="1.76"/>
<ellipse cx="527.4" cy="879.6" rx="6.2" ry="8.4" transform="rotate(25 527.4 879.6)" class="w" stroke-width="2.03"/>
<ellipse cx="527.6" cy="879.8" rx="3" ry="4.4" transform="rotate(25 527.6 879.8)" stroke-width="2.29"/>
<path d="M541.8,845.9 L531,871.8" stroke-width="1.35"/>

<!-- part 2 clip -->
<path d="M420.5,911.5 L424.3,905.7 L427.2,907.6 L428.2,914.5 C429.5,917.8 432,918.6 433.1,917.4 L433.1,908.6 L437,910.6 L453,919.3 L452.3,923.6 L445,921.8 L440.2,926 L440.7,930.8 L436.2,932.3 L433,929 L431,926 L426,923.5 L420.5,918.5 Z" class="w" stroke-width="1.76"/>
<path d="M437,910.6 L437,918.4 L431.2,921.5 M426.5,909 L426.8,915.8 C428.5,920 432,921.5 434.5,920 M437,918.4 L444,922 M431.2,921.5 L431,926" stroke-width="1.49"/>
<circle cx="448.7" cy="921.3" r="2.1" class="w" stroke-width="2.16"/>
<circle cx="437.8" cy="929" r="1.7" class="w" stroke-width="2.03"/>
<!-- pin 3 -->
<g transform="rotate(-28 413.5 940.2)">
<rect x="403" y="938.2" width="21" height="4" rx="1.8" class="w" stroke-width="1.49"/>
<ellipse cx="404.6" cy="940.2" rx="1.3" ry="2" stroke-width="1.08"/>
</g>
</g>
<g class="t">
<text x="317" y="95.5" textLength="19" lengthAdjust="spacingAndGlyphs">15</text>
<text x="317" y="213.5" textLength="19" lengthAdjust="spacingAndGlyphs">14</text>
<text x="575" y="84.5" textLength="19" lengthAdjust="spacingAndGlyphs">18</text>
<text x="389" y="171.5" textLength="19" lengthAdjust="spacingAndGlyphs">20</text>
<text x="367" y="241.5" textLength="19" lengthAdjust="spacingAndGlyphs">21</text>
<text x="580" y="242.5" textLength="19" lengthAdjust="spacingAndGlyphs">17</text>
<text x="591" y="311.5" textLength="19" lengthAdjust="spacingAndGlyphs">16</text>
<text x="333" y="296.5" textLength="19" lengthAdjust="spacingAndGlyphs">19</text>
<text x="219" y="412.5" textLength="19" lengthAdjust="spacingAndGlyphs">11</text>
<text x="444" y="409.5" textLength="19" lengthAdjust="spacingAndGlyphs">12</text>
<text x="259" y="459.5" textLength="19" lengthAdjust="spacingAndGlyphs">13</text>
<text x="386" y="440.5" textLength="9.5" lengthAdjust="spacingAndGlyphs">9</text>
<text x="406.5" y="711.5" textLength="9.5" lengthAdjust="spacingAndGlyphs">9</text>
<text x="322" y="820.5" textLength="19" lengthAdjust="spacingAndGlyphs">10</text>
<text x="350" y="848.5" textLength="9.5" lengthAdjust="spacingAndGlyphs">8</text>
<text x="424.5" y="772.5" textLength="9.5" lengthAdjust="spacingAndGlyphs">7</text>
<text x="453" y="788.5" textLength="9.5" lengthAdjust="spacingAndGlyphs">6</text>
<text x="482" y="806.5" textLength="9.5" lengthAdjust="spacingAndGlyphs">5</text>
<text x="543" y="841.5" textLength="9.5" lengthAdjust="spacingAndGlyphs">4</text>
<text x="467.5" y="944.5" textLength="9.5" lengthAdjust="spacingAndGlyphs">2</text>
<text x="436.3" y="961.5" textLength="9.5" lengthAdjust="spacingAndGlyphs">3</text>
<text x="493" y="969.5" textLength="9.5" lengthAdjust="spacingAndGlyphs">1</text>
<text x="27" y="989" textLength="113" lengthAdjust="spacingAndGlyphs" style="text-anchor:start;font-size:15.8px">7P52400-N030</text>
</g>
<!-- leaders -->
<g class="d" stroke-width="1.35">
<path d="M319.6,101 L322.4,121.5"/>
<path d="M305,168.5 L315.4,197"/>
<path d="M577.7,87 L586,107.3"/>
<path d="M398.4,167.8 L420.7,174.8"/>
<path d="M372,226.2 L387.3,210.9"/>
<path d="M573.5,203.6 L579,224.5"/>
<path d="M573.5,264.8 L587.4,296.8"/>
<path d="M340.2,300.7 L356.9,323"/>
<path d="M228,398 L267.8,366.2"/>
<path d="M420.8,374.5 L438.9,392.6"/>
<path d="M266.4,446.8 L281.7,431.5"/>
<path d="M345.7,434.3 L376.3,434.3"/>
</g>
<!-- FWD arrow -->
<g class="d" stroke-width="1.49">
<path d="M52,953 L70,928 L72,937 L99.3,920 L103.4,921.7 L103,941.7 L74.2,957 L72,966.2 Z" fill="#fff"/>
<path d="M55.5,953 L70.5,932.5 L72.5,940.5 L99.5,924 L99.5,941 M99.3,920 L99.5,924 M55.5,953 L72,966.2"/>
<text transform="translate(75.2,955.3) rotate(-28) skewX(-14)" style="font-family:'Liberation Sans',sans-serif;font-weight:bold;font-size:16.5px;fill:#1a1a1a;stroke:#1a1a1a;stroke-width:0.4" textLength="29" lengthAdjust="spacingAndGlyphs">FWD</text>
</g>

</svg>
</body></html>
